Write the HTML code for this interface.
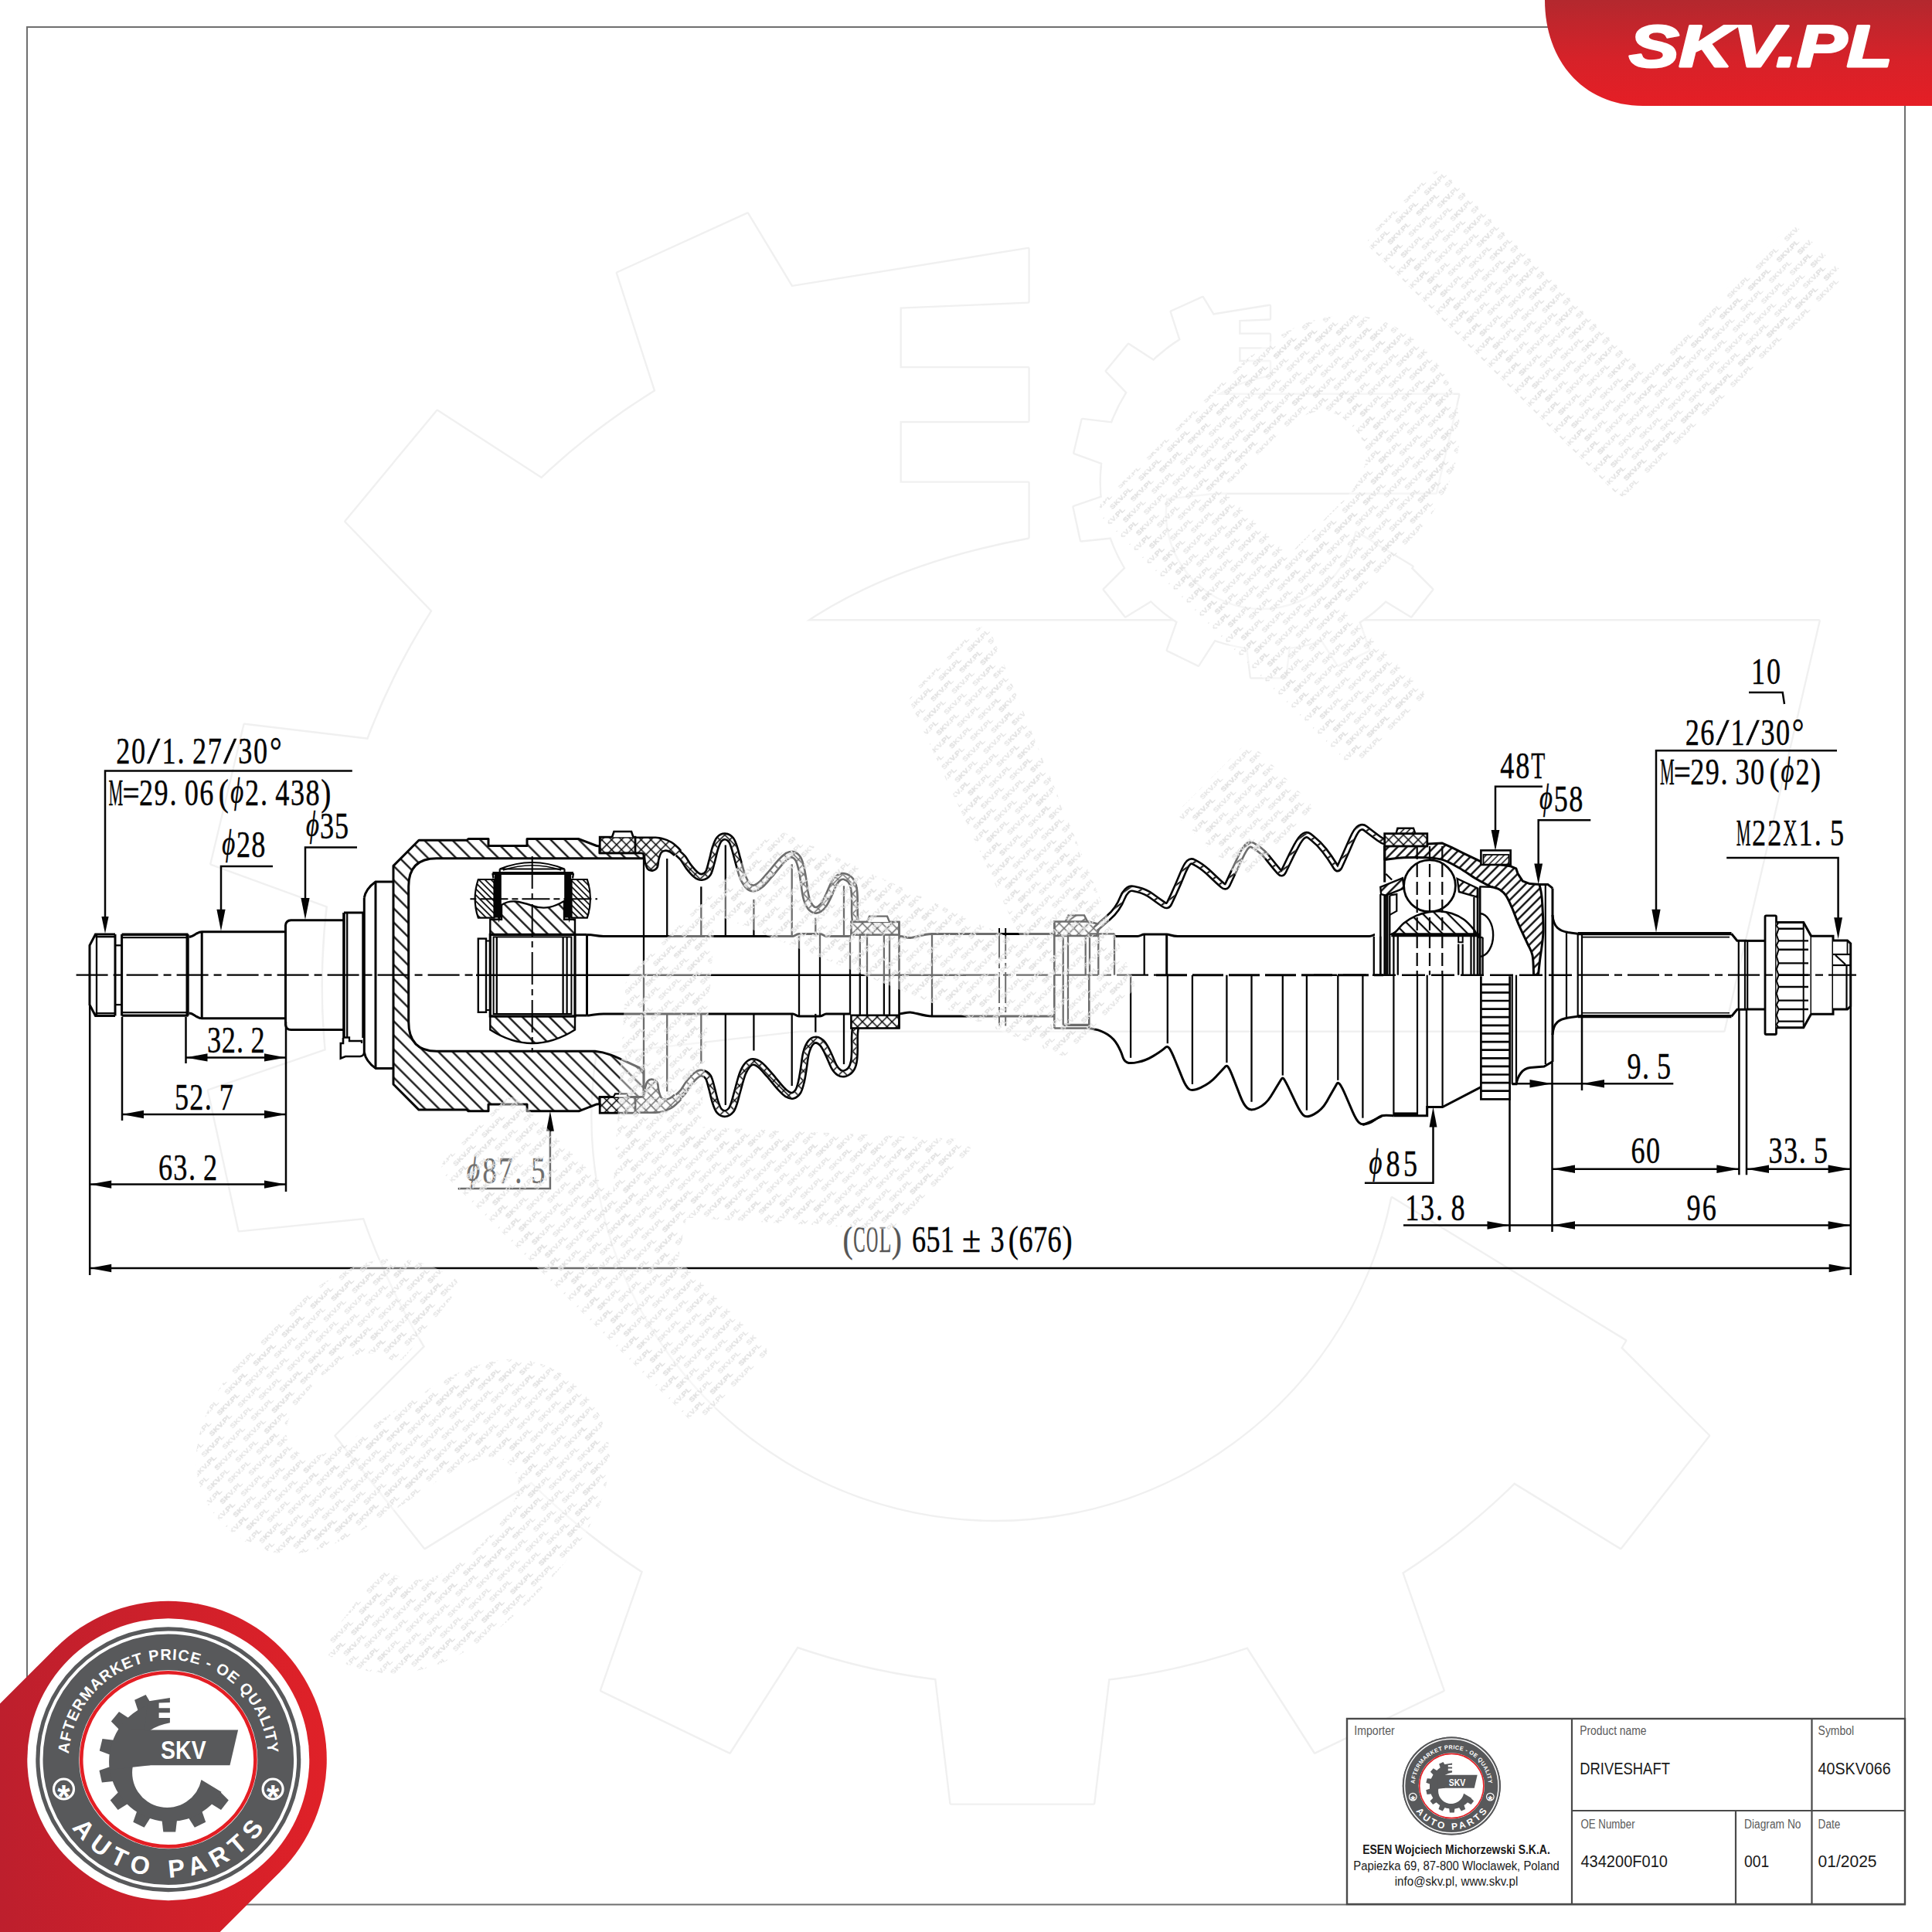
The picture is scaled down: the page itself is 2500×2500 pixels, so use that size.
<!DOCTYPE html>
<html lang="en"><head><meta charset="utf-8"><title>SKV Driveshaft 40SKV066</title>
<style>html,body{margin:0;padding:0;background:#fff}body{width:2500px;height:2500px;overflow:hidden}svg{display:block}</style>
</head><body>
<svg width="2500" height="2500" viewBox="0 0 2500 2500">
<defs><symbol id="logo" overflow="visible"><circle r="171.5" fill="#58595b"/><circle r="164.3" fill="none" stroke="#fff" stroke-width="4"/><circle r="115.5" fill="#fff"/><circle r="112.6" fill="none" stroke="#e31e24" stroke-width="4.6"/><g fill="#58595b"><g id="gearshape"><path d="M66,40.6 L78,52.6 L68.2,65.1 L53.7,56.2Z"/><path d="M42.8,65 L48.4,81 L34.1,87.9 L25,73.7Z"/><path d="M11.4,76.8 L9.4,93.6 L-6.5,93.6 L-8.5,76.8Z"/><path d="M-22.1,73.7 L-31.2,87.9 L-45.5,81 L-39.9,65Z"/><path d="M-50.8,56.2 L-65.2,65.1 L-75.1,52.6 L-63.1,40.6Z"/><path d="M-69.1,28 L-85.9,29.7 L-89.3,14.1 L-73.3,8.6Z"/><path d="M-73.1,-5.4 L-89,-11.2 L-85.3,-26.7 L-68.5,-24.7Z"/><path d="M-62.2,-37.2 L-74,-49.4 L-63.8,-61.7 L-49.6,-52.5Z"/><path d="M-38.5,-61 L-43.7,-77.1 L-29.2,-83.7 L-20.5,-69.3Z"/><path d="M68.7,42 A78,78 0 0 1 -71.8,-24.2 L-45.8,8 A44.9,44.9 0 0 0 42.7,26.1 Z"/><path d="M-23.4,7.4 L-75.8,13.3 A78,78 0 0 1 -21.4,-72.1 L-23.4,-37.3 Z"/><path d="M-48.2,-38.3 L90.3,-38.3 L79.7,7.4 L-48.2,7.4Z"/><path d="M-26.5,-75.2 L2.1,-79.8 L2.1,-73.9 L-12.2,-73.3 L-12.2,-66.5 L2.1,-66.5 L2.1,-60.6 L-12.2,-60.6 L-12.2,-53.7 L2.1,-53.7 L2.1,-47.6 Q-13.5,-44.7 -23.4,-37.8 L-30.8,-37.3 Z"/></g></g><text x="-9.7" y="-0.7" font-family="'Liberation Sans',sans-serif" font-weight="bold" font-size="32.5" fill="#fff" textLength="58.5" lengthAdjust="spacingAndGlyphs">SKV</text><path id="arcTop" d="M-129,0 A129,129 0 1 1 129,0" fill="none"/><text font-family="'Liberation Sans',sans-serif" font-weight="bold" font-size="20" fill="#fff" letter-spacing="1.05" text-anchor="middle"><textPath href="#arcTop" startOffset="50%">AFTERMARKET PRICE - OE QUALITY</textPath></text><path id="arcBot" d="M-152.6,0 A152.6,152.6 0 1 0 152.6,0" fill="none"/><text font-family="'Liberation Sans',sans-serif" font-weight="bold" font-size="32.5" fill="#fff" letter-spacing="9.2" text-anchor="middle"><textPath href="#arcBot" startOffset="50.9%">AUTO PARTS</textPath></text><circle cx="-135.3" cy="38.2" r="13" fill="none" stroke="#fff" stroke-width="3.2"/><text x="-135.3" y="62.7" font-family="'Liberation Sans',sans-serif" font-weight="bold" font-size="42" fill="#fff" text-anchor="middle">*</text><circle cx="135.3" cy="38.2" r="13" fill="none" stroke="#fff" stroke-width="3.2"/><text x="135.3" y="62.7" font-family="'Liberation Sans',sans-serif" font-weight="bold" font-size="42" fill="#fff" text-anchor="middle">*</text></symbol></defs>
<use href="#gearshape" transform="translate(1306,1247.7) scale(11.6)" fill="#fff" stroke="#f0f0f0" stroke-width="0.414" stroke-linejoin="round"/><use href="#gearshape" transform="translate(1306,1247.7) scale(11.6)" fill="#fff" stroke="none"/><use href="#gearshape" transform="translate(1637,617) scale(2.77)" fill="#fff" stroke="#f0f0f0" stroke-width="1.733" stroke-linejoin="round"/><use href="#gearshape" transform="translate(1637,617) scale(2.77)" fill="#fff" stroke="none"/>
<defs><pattern id="hA" patternUnits="userSpaceOnUse" width="12.9" height="12.9" patternTransform="rotate(45)"><path d="M0,6.5 H12.9" stroke="#040404" stroke-width="2.2"/></pattern><pattern id="hT" patternUnits="userSpaceOnUse" width="12.4" height="12.4" patternTransform="rotate(45)"><path d="M0,6.2 H12.4" stroke="#040404" stroke-width="2.2"/></pattern><pattern id="hF" patternUnits="userSpaceOnUse" width="5.6" height="5.6" patternTransform="rotate(45)"><path d="M0,2.8 H5.6" stroke="#040404" stroke-width="1.7"/></pattern><pattern id="hB" patternUnits="userSpaceOnUse" width="8.4" height="8.4" patternTransform="rotate(-45)"><path d="M0,4.2 H8.4" stroke="#040404" stroke-width="2.3"/></pattern><pattern id="hBf" patternUnits="userSpaceOnUse" width="5.5" height="5.5" patternTransform="rotate(-45)"><path d="M0,2.8 H5.5" stroke="#040404" stroke-width="1.4"/></pattern><pattern id="hI" patternUnits="userSpaceOnUse" width="11.5" height="11.5" patternTransform="rotate(45)"><path d="M0,5.8 H11.5" stroke="#040404" stroke-width="2.2"/></pattern><pattern id="hX" patternUnits="userSpaceOnUse" width="9" height="9" patternTransform="rotate(45 3 2)"><path d="M0,4.5 H9 M4.5,0 V9" stroke="#040404" stroke-width="1.5"/></pattern><pattern id="hS" patternUnits="userSpaceOnUse" width="10.5" height="10.5" patternTransform="rotate(-35)"><path d="M0,5 H10.5" stroke="#040404" stroke-width="2"/></pattern></defs>
<g stroke-linecap="butt" stroke-linejoin="miter">
<path d="M116,1261.7 L116,1223.3 L123.5,1209 L149,1209" fill="none" stroke="#040404" stroke-width="3" />
<path d="M116,1261.7 L116,1300.1 L123.5,1314.4 L149,1314.4" fill="none" stroke="#040404" stroke-width="3" />
<path d="M123.5,1212.2L149,1212.2" stroke="#040404" stroke-width="2.3" fill="none" />
<path d="M123.5,1311.2L149,1311.2" stroke="#040404" stroke-width="2.3" fill="none" />
<path d="M125,1210L125,1313.4" stroke="#040404" stroke-width="2.3" fill="none" />
<path d="M149,1209L149,1314.4" stroke="#040404" stroke-width="3" fill="none" />
<path d="M149,1223.3L157.6,1223.3" stroke="#040404" stroke-width="2.3" fill="none" />
<path d="M149,1300.1L157.6,1300.1" stroke="#040404" stroke-width="2.3" fill="none" />
<path d="M157.6,1209L157.6,1314.4" stroke="#040404" stroke-width="3" fill="none" />
<path d="M157.6,1209.3L243.5,1209.3" stroke="#040404" stroke-width="3.4" fill="none" />
<path d="M157.6,1314.1L243.5,1314.1" stroke="#040404" stroke-width="3.4" fill="none" />
<path d="M157.6,1213.2L243.5,1213.2" stroke="#040404" stroke-width="2.3" fill="none" />
<path d="M157.6,1310.2L243.5,1310.2" stroke="#040404" stroke-width="2.3" fill="none" />
<path d="M242.6,1209L242.6,1314.4" stroke="#040404" stroke-width="4.2" fill="none" />
<path d="M244.6,1212.3 C251,1212.3 254,1205.7 261.2,1205.7 H368.5" fill="none" stroke="#040404" stroke-width="3" />
<path d="M244.6,1311.1 C251,1311.1 254,1317.7 261.2,1317.7 H368.5" fill="none" stroke="#040404" stroke-width="3" />
<path d="M261.2,1205.7L261.2,1317.7" stroke="#040404" stroke-width="3" fill="none" />
<path d="M369.5,1196.8L369.5,1326.6" stroke="#040404" stroke-width="3" fill="none" />
<path d="M369.5,1197.5 Q370,1191 376.5,1190.8 H444" fill="none" stroke="#040404" stroke-width="3" />
<path d="M369.5,1325.9 Q370,1332.4 376.5,1332.6 H444" fill="none" stroke="#040404" stroke-width="3" />
<path d="M445,1181L445,1343" stroke="#040404" stroke-width="3.6" fill="none" />
<path d="M449.2,1181L449.2,1343" stroke="#040404" stroke-width="2.3" fill="none" />
<path d="M445,1181 L469.8,1181 L469.8,1343" fill="none" stroke="#040404" stroke-width="3" />
<path d="M445,1342.5 L452,1342.5 L452,1347 L468,1347 L468,1350" fill="none" stroke="#040404" stroke-width="2.3" />
<path d="M444,1343 V1350 H440.8 V1369.5 L447,1367 H466 Q471,1366.5 471.3,1361" fill="none" stroke="#040404" stroke-width="2.6" />
<path d="M471.3,1161.8L471.3,1361.6" stroke="#040404" stroke-width="3" fill="none" />
<path d="M471.3,1161.8 C473,1152 479,1146 486,1141 H509" fill="none" stroke="#040404" stroke-width="3" />
<path d="M471.3,1361.6 C473,1371.4 479,1377.4 486,1382.4 H509" fill="none" stroke="#040404" stroke-width="3" />
<path d="M486,1141L486,1382.4" stroke="#040404" stroke-width="3" fill="none" />
<path d="M509,1120.4 L542,1087.3 L604,1087.3 L606,1085.6 L632,1085.6 L632,1094.5 L682,1094.5 L682,1085.6 L749,1085.6 L772,1094.5 L776,1095 L776,1103.8 L833,1103.8 L833,1110.7 L565,1110.7 Q528.7,1110.7 528.7,1147 L528.7,1322 Q528.7,1360.3 565,1360.3 L770,1360.3 C790,1362 805,1372 833,1384  L833,1419.6 L776,1419.6 L776,1428.4 L772,1428.9 L749,1437.8 L682,1437.8 L682,1428.9 L632,1428.9 L632,1437.8 L606,1437.8 L604,1436.1 L542,1436.1 L509,1403 Z" fill="url(#hA)" stroke="#040404" stroke-width="3" stroke-linejoin="round"/>
<path d="M833,1110.7L833,1416" stroke="#040404" stroke-width="2.3" fill="none" />
<path d="M639.5,1138 L618.8,1138 Q610.5,1163 618.8,1187.7 L639.5,1187.7 Z" fill="url(#hF)" stroke="#040404" stroke-width="2.2" />
<path d="M739.5,1138 L759.8,1138 Q768,1163 759.8,1187.7 L739.5,1187.7 Z" fill="url(#hF)" stroke="#040404" stroke-width="2.2" />
<rect x="639.8" y="1129" width="9" height="58.5" fill="#040404"/>
<rect x="730.2" y="1129" width="9" height="58.5" fill="#040404"/>
<path d="M644,1187 l1.5,7 l2,-7z M735,1187 l1.5,7 l2,-7z" fill="#040404"/>
<path d="M637.4,1130L742,1130" stroke="#040404" stroke-width="4" fill="none" />
<path d="M637.4,1130L638.5,1136.5" stroke="#040404" stroke-width="2.3" fill="none" />
<path d="M742,1130L741,1136.5" stroke="#040404" stroke-width="2.3" fill="none" />
<path d="M646.7,1124.5 Q688.7,1107.5 730.5,1124.5 Z" fill="none" stroke="#040404" stroke-width="2.2" />
<path d="M646.7,1124.5 V1129 M730.5,1124.5 V1129" fill="none" stroke="#040404" stroke-width="2.2" />
<path d="M651,1126 Q688.7,1113.5 726,1126" fill="none" stroke="#040404" stroke-width="1.6" />
<path d="M634.3,1209.4 L634.3,1189.8 L649,1189.8 L649,1171 C660,1163.5 672,1166 688.7,1172 S718,1173 730,1166 L730,1189.8 L744,1189.8 L744,1209.4 Z" fill="url(#hT)" stroke="#040404" stroke-width="2.4" />
<rect x="634.3" y="1209.4" width="109.7" height="105.6" fill="#fff" stroke="#040404" stroke-width="3.2"/>
<rect x="638.6" y="1212.4" width="100.8" height="99.6" fill="none" stroke="#040404" stroke-width="2"/>
<path d="M642.8,1212L642.8,1312" stroke="#040404" stroke-width="2.3" fill="none" />
<path d="M728.6,1212L728.6,1312" stroke="#040404" stroke-width="2.3" fill="none" />
<path d="M733.6,1212L733.6,1312" stroke="#040404" stroke-width="2.3" fill="none" />
<rect x="618.8" y="1214.6" width="10.2" height="95.2" fill="#fff" stroke="#040404" stroke-width="2.4"/>
<rect x="629" y="1217.5" width="5" height="89.5" fill="none" stroke="#040404" stroke-width="2"/>
<path d="M634.3,1315 L744,1315 L744,1332.6 Q688.7,1367.5 634.3,1332.6 Z" fill="url(#hT)" stroke="#040404" stroke-width="2.4" />
<path d="M688.7,1108L688.7,1362" stroke="#040404" stroke-width="2" fill="none" stroke-dasharray="42 6 8 6"/>
<path d="M608.4,1163.3L773,1163.3" stroke="#040404" stroke-width="2" fill="none" stroke-dasharray="8 5 36 5"/>
<path d="M744,1209.4L759.5,1209.4" stroke="#040404" stroke-width="3" fill="none" />
<path d="M744,1314L759.5,1314" stroke="#040404" stroke-width="3" fill="none" />
<path d="M759.5,1209.4L759.5,1314" stroke="#040404" stroke-width="3" fill="none" />
<path d="M759.5,1209.4 C767,1209.4 771,1211.5 781,1211.5 H1026 C1029,1211.5 1030,1208.4 1034,1208.4 H1061 C1065,1208.4 1066,1211.5 1069,1211.5 H1101" fill="none" stroke="#040404" stroke-width="3" />
<path d="M759.5,1314 C767,1314 771,1311.9 781,1311.9 H1026 C1029,1311.9 1030,1315 1034,1315 H1061 C1065,1315 1066,1311.9 1069,1311.9 H1101" fill="none" stroke="#040404" stroke-width="3" />
<path d="M1034,1208.4L1034,1315" stroke="#040404" stroke-width="2.3" fill="none" />
<path d="M1061,1208.4L1061,1315" stroke="#040404" stroke-width="2.3" fill="none" />
<path d="M1100,1211.5L1100,1311.9" stroke="#040404" stroke-width="2.3" fill="none" />
<path d="M863.2,1111L863.2,1211.5" stroke="#040404" stroke-width="2.3" fill="none" />
<path d="M863.2,1412.4L863.2,1311.9" stroke="#040404" stroke-width="2.3" fill="none" />
<path d="M907.3,1147.3L907.3,1211.5" stroke="#040404" stroke-width="2.3" fill="none" />
<path d="M907.3,1376.1L907.3,1311.9" stroke="#040404" stroke-width="2.3" fill="none" />
<path d="M938.8,1093.5L938.8,1211.5" stroke="#040404" stroke-width="2.3" fill="none" />
<path d="M938.8,1429.9L938.8,1311.9" stroke="#040404" stroke-width="2.3" fill="none" />
<path d="M975.4,1163.9L975.4,1211.5" stroke="#040404" stroke-width="2.3" fill="none" />
<path d="M975.4,1359.5L975.4,1311.9" stroke="#040404" stroke-width="2.3" fill="none" />
<path d="M1024.7,1118.3L1024.7,1211.5" stroke="#040404" stroke-width="2.3" fill="none" />
<path d="M1024.7,1405.1L1024.7,1311.9" stroke="#040404" stroke-width="2.3" fill="none" />
<path d="M1055.3,1187.7L1055.3,1211.5" stroke="#040404" stroke-width="2.3" fill="none" />
<path d="M1055.3,1335.7L1055.3,1311.9" stroke="#040404" stroke-width="2.3" fill="none" />
<path d="M1092,1146.3L1092,1211.5" stroke="#040404" stroke-width="2.3" fill="none" />
<path d="M1092,1377.1L1092,1311.9" stroke="#040404" stroke-width="2.3" fill="none" />
<path d="M820.3,1083.8 C825,1083.8 842,1083.6 848.3,1083.8 C854.5,1084.1 854.2,1084.2 857.6,1085.2 C861,1086.1 865.6,1088 868.8,1089.8 C871.9,1091.6 874.1,1093.9 876.2,1095.8 C878.3,1097.6 880.4,1100.1 881.2,1101 L873,1107 C872.1,1106.2 869.2,1103.5 867.3,1102.5 C865.3,1101.4 863.2,1100.5 861.3,1100.6 C859.4,1100.7 857.2,1101.3 855.7,1103.2 C854.2,1105.2 853.2,1109 852.4,1112.2 C851.5,1115.4 851.9,1120 850.5,1122.4 C849.1,1124.8 846.2,1126.4 844.2,1126.7 C842.1,1127 839.6,1126.1 838,1124.3 C836.5,1122.5 835.7,1119.1 834.8,1115.9 C834,1112.7 834.3,1107.1 832.8,1105.1 C831.3,1103.1 828,1104 825.9,1103.8 C823.8,1103.6 821.2,1103.8 820.3,1103.8 Z" fill="#fff" stroke="none" stroke-width="0" />
<path d="M820.3,1083.8 C825,1083.8 842,1083.6 848.3,1083.8 C854.5,1084.1 854.2,1084.2 857.6,1085.2 C861,1086.1 865.6,1088 868.8,1089.8 C871.9,1091.6 874.1,1093.9 876.2,1095.8 C878.3,1097.6 880.4,1100.1 881.2,1101 L873,1107 C872.1,1106.2 869.2,1103.5 867.3,1102.5 C865.3,1101.4 863.2,1100.5 861.3,1100.6 C859.4,1100.7 857.2,1101.3 855.7,1103.2 C854.2,1105.2 853.2,1109 852.4,1112.2 C851.5,1115.4 851.9,1120 850.5,1122.4 C849.1,1124.8 846.2,1126.4 844.2,1126.7 C842.1,1127 839.6,1126.1 838,1124.3 C836.5,1122.5 835.7,1119.1 834.8,1115.9 C834,1112.7 834.3,1107.1 832.8,1105.1 C831.3,1103.1 828,1104 825.9,1103.8 C823.8,1103.6 821.2,1103.8 820.3,1103.8 Z" fill="url(#hX)" stroke="none" stroke-width="0" />
<path d="M820.3,1083.8 C825,1083.8 842,1083.6 848.3,1083.8 C854.5,1084.1 854.2,1084.2 857.6,1085.2 C861,1086.1 865.6,1088 868.8,1089.8 C871.9,1091.6 874.1,1093.9 876.2,1095.8 C878.3,1097.6 880.4,1100.1 881.2,1101" fill="none" stroke="#040404" stroke-width="2.6" />
<path d="M873,1107 C872.1,1106.2 869.2,1103.5 867.3,1102.5 C865.3,1101.4 863.2,1100.5 861.3,1100.6 C859.4,1100.7 857.2,1101.3 855.7,1103.2 C854.2,1105.2 853.2,1109 852.4,1112.2 C851.5,1115.4 851.9,1120 850.5,1122.4 C849.1,1124.8 846.2,1126.4 844.2,1126.7 C842.1,1127 839.6,1126.1 838,1124.3 C836.5,1122.5 835.7,1119.1 834.8,1115.9 C834,1112.7 834.3,1107.1 832.8,1105.1 C831.3,1103.1 828,1104 825.9,1103.8 C823.8,1103.6 821.2,1103.8 820.3,1103.8" fill="none" stroke="#040404" stroke-width="2.6" />
<path d="M877.1,1104 C878.2,1105 881.3,1107.4 883.7,1110.3 C886,1113.2 888.3,1117.9 891.1,1121.5 C893.9,1125.1 897.6,1129.5 900.4,1131.7 C903.2,1134 905.2,1135.2 907.9,1134.9 C910.5,1134.6 914,1133.3 916.3,1129.9 C918.5,1126.4 919.7,1119.5 921.3,1114 C922.8,1108.6 924,1101.9 925.6,1097.3 C927.1,1092.6 928.4,1088.6 930.6,1086.1 C932.8,1083.6 936,1082.2 938.6,1082.4 C941.2,1082.5 944.1,1084.5 946.1,1087 C948,1089.5 949,1093.1 950.4,1097.3 C951.8,1101.5 952.7,1106 954.5,1112.2 C956.2,1118.4 958.8,1128.9 961,1134.5 C963.2,1140.1 965.2,1143.2 967.5,1145.7 C969.8,1148.2 972.2,1149.6 975,1149.4 C977.8,1149.3 980.9,1147.6 984.3,1144.8 C987.7,1142 991.1,1137.6 995.5,1132.7 C999.8,1127.7 1006.5,1119.2 1010.4,1115 C1014.2,1110.8 1016.2,1109.1 1018.7,1107.5 C1021.3,1106 1023.3,1105 1025.6,1105.6 C1028,1106.3 1030.9,1108.3 1032.7,1111.2 C1034.6,1114.2 1035.6,1118.5 1036.8,1123.4 C1038,1128.2 1038.8,1133.9 1039.8,1140.1 C1040.8,1146.3 1041.5,1155 1043,1160.6 C1044.4,1166.2 1046.4,1170.8 1048.6,1173.7 C1050.7,1176.5 1053.4,1177.9 1056,1177.8 C1058.6,1177.6 1061.8,1175.7 1064.4,1172.7 C1067,1169.7 1069.4,1164.7 1071.8,1159.7 C1074.3,1154.7 1077,1147 1079.3,1142.9 C1081.6,1138.9 1083.6,1136.9 1085.8,1135.5 C1088.1,1134 1090.4,1133.5 1092.9,1134.2 C1095.4,1134.8 1098.7,1136.6 1100.7,1139.2 C1102.7,1141.7 1104,1145.2 1104.8,1149.4 C1105.7,1153.6 1105.8,1159.1 1105.9,1164.3 C1106.1,1169.6 1105.8,1176.8 1105.9,1181.1 C1106,1185.5 1106.2,1187.9 1106.5,1190.4 C1106.8,1192.9 1107.4,1195.1 1107.6,1196" fill="none" stroke="#040404" stroke-width="10.2" stroke-linejoin="round"/>
<path d="M877.1,1104 C878.2,1105 881.3,1107.4 883.7,1110.3 C886,1113.2 888.3,1117.9 891.1,1121.5 C893.9,1125.1 897.6,1129.5 900.4,1131.7 C903.2,1134 905.2,1135.2 907.9,1134.9 C910.5,1134.6 914,1133.3 916.3,1129.9 C918.5,1126.4 919.7,1119.5 921.3,1114 C922.8,1108.6 924,1101.9 925.6,1097.3 C927.1,1092.6 928.4,1088.6 930.6,1086.1 C932.8,1083.6 936,1082.2 938.6,1082.4 C941.2,1082.5 944.1,1084.5 946.1,1087 C948,1089.5 949,1093.1 950.4,1097.3 C951.8,1101.5 952.7,1106 954.5,1112.2 C956.2,1118.4 958.8,1128.9 961,1134.5 C963.2,1140.1 965.2,1143.2 967.5,1145.7 C969.8,1148.2 972.2,1149.6 975,1149.4 C977.8,1149.3 980.9,1147.6 984.3,1144.8 C987.7,1142 991.1,1137.6 995.5,1132.7 C999.8,1127.7 1006.5,1119.2 1010.4,1115 C1014.2,1110.8 1016.2,1109.1 1018.7,1107.5 C1021.3,1106 1023.3,1105 1025.6,1105.6 C1028,1106.3 1030.9,1108.3 1032.7,1111.2 C1034.6,1114.2 1035.6,1118.5 1036.8,1123.4 C1038,1128.2 1038.8,1133.9 1039.8,1140.1 C1040.8,1146.3 1041.5,1155 1043,1160.6 C1044.4,1166.2 1046.4,1170.8 1048.6,1173.7 C1050.7,1176.5 1053.4,1177.9 1056,1177.8 C1058.6,1177.6 1061.8,1175.7 1064.4,1172.7 C1067,1169.7 1069.4,1164.7 1071.8,1159.7 C1074.3,1154.7 1077,1147 1079.3,1142.9 C1081.6,1138.9 1083.6,1136.9 1085.8,1135.5 C1088.1,1134 1090.4,1133.5 1092.9,1134.2 C1095.4,1134.8 1098.7,1136.6 1100.7,1139.2 C1102.7,1141.7 1104,1145.2 1104.8,1149.4 C1105.7,1153.6 1105.8,1159.1 1105.9,1164.3 C1106.1,1169.6 1105.8,1176.8 1105.9,1181.1 C1106,1185.5 1106.2,1187.9 1106.5,1190.4 C1106.8,1192.9 1107.4,1195.1 1107.6,1196" fill="none" stroke="#fff" stroke-width="5" stroke-linejoin="round"/>
<path d="M877.1,1104 C878.2,1105 881.3,1107.4 883.7,1110.3 C886,1113.2 888.3,1117.9 891.1,1121.5 C893.9,1125.1 897.6,1129.5 900.4,1131.7 C903.2,1134 905.2,1135.2 907.9,1134.9 C910.5,1134.6 914,1133.3 916.3,1129.9 C918.5,1126.4 919.7,1119.5 921.3,1114 C922.8,1108.6 924,1101.9 925.6,1097.3 C927.1,1092.6 928.4,1088.6 930.6,1086.1 C932.8,1083.6 936,1082.2 938.6,1082.4 C941.2,1082.5 944.1,1084.5 946.1,1087 C948,1089.5 949,1093.1 950.4,1097.3 C951.8,1101.5 952.7,1106 954.5,1112.2 C956.2,1118.4 958.8,1128.9 961,1134.5 C963.2,1140.1 965.2,1143.2 967.5,1145.7 C969.8,1148.2 972.2,1149.6 975,1149.4 C977.8,1149.3 980.9,1147.6 984.3,1144.8 C987.7,1142 991.1,1137.6 995.5,1132.7 C999.8,1127.7 1006.5,1119.2 1010.4,1115 C1014.2,1110.8 1016.2,1109.1 1018.7,1107.5 C1021.3,1106 1023.3,1105 1025.6,1105.6 C1028,1106.3 1030.9,1108.3 1032.7,1111.2 C1034.6,1114.2 1035.6,1118.5 1036.8,1123.4 C1038,1128.2 1038.8,1133.9 1039.8,1140.1 C1040.8,1146.3 1041.5,1155 1043,1160.6 C1044.4,1166.2 1046.4,1170.8 1048.6,1173.7 C1050.7,1176.5 1053.4,1177.9 1056,1177.8 C1058.6,1177.6 1061.8,1175.7 1064.4,1172.7 C1067,1169.7 1069.4,1164.7 1071.8,1159.7 C1074.3,1154.7 1077,1147 1079.3,1142.9 C1081.6,1138.9 1083.6,1136.9 1085.8,1135.5 C1088.1,1134 1090.4,1133.5 1092.9,1134.2 C1095.4,1134.8 1098.7,1136.6 1100.7,1139.2 C1102.7,1141.7 1104,1145.2 1104.8,1149.4 C1105.7,1153.6 1105.8,1159.1 1105.9,1164.3 C1106.1,1169.6 1105.8,1176.8 1105.9,1181.1 C1106,1185.5 1106.2,1187.9 1106.5,1190.4 C1106.8,1192.9 1107.4,1195.1 1107.6,1196" fill="none" stroke="url(#hX)" stroke-width="5" stroke-linejoin="round"/>
<rect x="776.2" y="1083.2" width="45.8" height="20.6" fill="#fff" stroke="none"/>
<rect x="776.2" y="1083.2" width="45.8" height="20.6" fill="url(#hX)" stroke="#040404" stroke-width="2.8"/>
<path d="M792,1083.2 L794.5,1076 L817,1076 L819.5,1083.2" fill="#fff" stroke="#040404" stroke-width="2.6" />
<rect x="1101.4" y="1192.9" width="62.1" height="16.7" fill="#fff" stroke="none"/>
<rect x="1101.4" y="1192.9" width="62.1" height="16.7" fill="url(#hX)" stroke="#040404" stroke-width="2.6"/>
<path d="M1122,1192.9 L1125,1185.6 L1148,1185.6 L1151,1192.9" fill="#fff" stroke="#040404" stroke-width="2.4" />
<path d="M820.3,1439.6 C825,1439.6 842,1439.8 848.3,1439.6 C854.5,1439.3 854.2,1439.2 857.6,1438.2 C861,1437.3 865.6,1435.4 868.8,1433.6 C871.9,1431.8 874.1,1429.5 876.2,1427.6 C878.3,1425.8 880.4,1423.3 881.2,1422.4 L873,1416.4 C872.1,1417.2 869.2,1419.9 867.3,1420.9 C865.3,1422 863.2,1422.9 861.3,1422.8 C859.4,1422.7 857.2,1422.1 855.7,1420.2 C854.2,1418.2 853.2,1414.4 852.4,1411.2 C851.5,1408 851.9,1403.4 850.5,1401 C849.1,1398.6 846.2,1397 844.2,1396.7 C842.1,1396.4 839.6,1397.3 838,1399.1 C836.5,1400.9 835.7,1404.3 834.8,1407.5 C834,1410.7 834.3,1416.3 832.8,1418.3 C831.3,1420.3 828,1419.4 825.9,1419.6 C823.8,1419.8 821.2,1419.6 820.3,1419.6 Z" fill="#fff" stroke="none" stroke-width="0" />
<path d="M820.3,1439.6 C825,1439.6 842,1439.8 848.3,1439.6 C854.5,1439.3 854.2,1439.2 857.6,1438.2 C861,1437.3 865.6,1435.4 868.8,1433.6 C871.9,1431.8 874.1,1429.5 876.2,1427.6 C878.3,1425.8 880.4,1423.3 881.2,1422.4 L873,1416.4 C872.1,1417.2 869.2,1419.9 867.3,1420.9 C865.3,1422 863.2,1422.9 861.3,1422.8 C859.4,1422.7 857.2,1422.1 855.7,1420.2 C854.2,1418.2 853.2,1414.4 852.4,1411.2 C851.5,1408 851.9,1403.4 850.5,1401 C849.1,1398.6 846.2,1397 844.2,1396.7 C842.1,1396.4 839.6,1397.3 838,1399.1 C836.5,1400.9 835.7,1404.3 834.8,1407.5 C834,1410.7 834.3,1416.3 832.8,1418.3 C831.3,1420.3 828,1419.4 825.9,1419.6 C823.8,1419.8 821.2,1419.6 820.3,1419.6 Z" fill="url(#hX)" stroke="none" stroke-width="0" />
<path d="M820.3,1439.6 C825,1439.6 842,1439.8 848.3,1439.6 C854.5,1439.3 854.2,1439.2 857.6,1438.2 C861,1437.3 865.6,1435.4 868.8,1433.6 C871.9,1431.8 874.1,1429.5 876.2,1427.6 C878.3,1425.8 880.4,1423.3 881.2,1422.4" fill="none" stroke="#040404" stroke-width="2.6" />
<path d="M873,1416.4 C872.1,1417.2 869.2,1419.9 867.3,1420.9 C865.3,1422 863.2,1422.9 861.3,1422.8 C859.4,1422.7 857.2,1422.1 855.7,1420.2 C854.2,1418.2 853.2,1414.4 852.4,1411.2 C851.5,1408 851.9,1403.4 850.5,1401 C849.1,1398.6 846.2,1397 844.2,1396.7 C842.1,1396.4 839.6,1397.3 838,1399.1 C836.5,1400.9 835.7,1404.3 834.8,1407.5 C834,1410.7 834.3,1416.3 832.8,1418.3 C831.3,1420.3 828,1419.4 825.9,1419.6 C823.8,1419.8 821.2,1419.6 820.3,1419.6" fill="none" stroke="#040404" stroke-width="2.6" />
<path d="M877.1,1419.4 C878.2,1418.4 881.3,1416 883.7,1413.1 C886,1410.2 888.3,1405.5 891.1,1401.9 C893.9,1398.3 897.6,1393.9 900.4,1391.7 C903.2,1389.4 905.2,1388.2 907.9,1388.5 C910.5,1388.8 914,1390.1 916.3,1393.5 C918.5,1397 919.7,1403.9 921.3,1409.4 C922.8,1414.8 924,1421.5 925.6,1426.1 C927.1,1430.8 928.4,1434.8 930.6,1437.3 C932.8,1439.8 936,1441.2 938.6,1441 C941.2,1440.9 944.1,1438.9 946.1,1436.4 C948,1433.9 949,1430.3 950.4,1426.1 C951.8,1421.9 952.7,1417.4 954.5,1411.2 C956.2,1405 958.8,1394.5 961,1388.9 C963.2,1383.3 965.2,1380.2 967.5,1377.7 C969.8,1375.2 972.2,1373.8 975,1374 C977.8,1374.1 980.9,1375.8 984.3,1378.6 C987.7,1381.4 991.1,1385.8 995.5,1390.7 C999.8,1395.7 1006.5,1404.2 1010.4,1408.4 C1014.2,1412.6 1016.2,1414.3 1018.7,1415.9 C1021.3,1417.4 1023.3,1418.4 1025.6,1417.8 C1028,1417.1 1030.9,1415.1 1032.7,1412.2 C1034.6,1409.2 1035.6,1404.9 1036.8,1400 C1038,1395.2 1038.8,1389.5 1039.8,1383.3 C1040.8,1377.1 1041.5,1368.4 1043,1362.8 C1044.4,1357.2 1046.4,1352.6 1048.6,1349.7 C1050.7,1346.9 1053.4,1345.5 1056,1345.6 C1058.6,1345.8 1061.8,1347.7 1064.4,1350.7 C1067,1353.7 1069.4,1358.7 1071.8,1363.7 C1074.3,1368.7 1077,1376.4 1079.3,1380.5 C1081.6,1384.5 1083.6,1386.5 1085.8,1387.9 C1088.1,1389.4 1090.4,1389.9 1092.9,1389.2 C1095.4,1388.6 1098.7,1386.8 1100.7,1384.2 C1102.7,1381.7 1104,1378.2 1104.8,1374 C1105.7,1369.8 1105.8,1364.3 1105.9,1359.1 C1106.1,1353.8 1105.8,1346.6 1105.9,1342.3 C1106,1337.9 1106.2,1335.5 1106.5,1333 C1106.8,1330.5 1107.4,1328.3 1107.6,1327.4" fill="none" stroke="#040404" stroke-width="10.2" stroke-linejoin="round"/>
<path d="M877.1,1419.4 C878.2,1418.4 881.3,1416 883.7,1413.1 C886,1410.2 888.3,1405.5 891.1,1401.9 C893.9,1398.3 897.6,1393.9 900.4,1391.7 C903.2,1389.4 905.2,1388.2 907.9,1388.5 C910.5,1388.8 914,1390.1 916.3,1393.5 C918.5,1397 919.7,1403.9 921.3,1409.4 C922.8,1414.8 924,1421.5 925.6,1426.1 C927.1,1430.8 928.4,1434.8 930.6,1437.3 C932.8,1439.8 936,1441.2 938.6,1441 C941.2,1440.9 944.1,1438.9 946.1,1436.4 C948,1433.9 949,1430.3 950.4,1426.1 C951.8,1421.9 952.7,1417.4 954.5,1411.2 C956.2,1405 958.8,1394.5 961,1388.9 C963.2,1383.3 965.2,1380.2 967.5,1377.7 C969.8,1375.2 972.2,1373.8 975,1374 C977.8,1374.1 980.9,1375.8 984.3,1378.6 C987.7,1381.4 991.1,1385.8 995.5,1390.7 C999.8,1395.7 1006.5,1404.2 1010.4,1408.4 C1014.2,1412.6 1016.2,1414.3 1018.7,1415.9 C1021.3,1417.4 1023.3,1418.4 1025.6,1417.8 C1028,1417.1 1030.9,1415.1 1032.7,1412.2 C1034.6,1409.2 1035.6,1404.9 1036.8,1400 C1038,1395.2 1038.8,1389.5 1039.8,1383.3 C1040.8,1377.1 1041.5,1368.4 1043,1362.8 C1044.4,1357.2 1046.4,1352.6 1048.6,1349.7 C1050.7,1346.9 1053.4,1345.5 1056,1345.6 C1058.6,1345.8 1061.8,1347.7 1064.4,1350.7 C1067,1353.7 1069.4,1358.7 1071.8,1363.7 C1074.3,1368.7 1077,1376.4 1079.3,1380.5 C1081.6,1384.5 1083.6,1386.5 1085.8,1387.9 C1088.1,1389.4 1090.4,1389.9 1092.9,1389.2 C1095.4,1388.6 1098.7,1386.8 1100.7,1384.2 C1102.7,1381.7 1104,1378.2 1104.8,1374 C1105.7,1369.8 1105.8,1364.3 1105.9,1359.1 C1106.1,1353.8 1105.8,1346.6 1105.9,1342.3 C1106,1337.9 1106.2,1335.5 1106.5,1333 C1106.8,1330.5 1107.4,1328.3 1107.6,1327.4" fill="none" stroke="#fff" stroke-width="5" stroke-linejoin="round"/>
<path d="M877.1,1419.4 C878.2,1418.4 881.3,1416 883.7,1413.1 C886,1410.2 888.3,1405.5 891.1,1401.9 C893.9,1398.3 897.6,1393.9 900.4,1391.7 C903.2,1389.4 905.2,1388.2 907.9,1388.5 C910.5,1388.8 914,1390.1 916.3,1393.5 C918.5,1397 919.7,1403.9 921.3,1409.4 C922.8,1414.8 924,1421.5 925.6,1426.1 C927.1,1430.8 928.4,1434.8 930.6,1437.3 C932.8,1439.8 936,1441.2 938.6,1441 C941.2,1440.9 944.1,1438.9 946.1,1436.4 C948,1433.9 949,1430.3 950.4,1426.1 C951.8,1421.9 952.7,1417.4 954.5,1411.2 C956.2,1405 958.8,1394.5 961,1388.9 C963.2,1383.3 965.2,1380.2 967.5,1377.7 C969.8,1375.2 972.2,1373.8 975,1374 C977.8,1374.1 980.9,1375.8 984.3,1378.6 C987.7,1381.4 991.1,1385.8 995.5,1390.7 C999.8,1395.7 1006.5,1404.2 1010.4,1408.4 C1014.2,1412.6 1016.2,1414.3 1018.7,1415.9 C1021.3,1417.4 1023.3,1418.4 1025.6,1417.8 C1028,1417.1 1030.9,1415.1 1032.7,1412.2 C1034.6,1409.2 1035.6,1404.9 1036.8,1400 C1038,1395.2 1038.8,1389.5 1039.8,1383.3 C1040.8,1377.1 1041.5,1368.4 1043,1362.8 C1044.4,1357.2 1046.4,1352.6 1048.6,1349.7 C1050.7,1346.9 1053.4,1345.5 1056,1345.6 C1058.6,1345.8 1061.8,1347.7 1064.4,1350.7 C1067,1353.7 1069.4,1358.7 1071.8,1363.7 C1074.3,1368.7 1077,1376.4 1079.3,1380.5 C1081.6,1384.5 1083.6,1386.5 1085.8,1387.9 C1088.1,1389.4 1090.4,1389.9 1092.9,1389.2 C1095.4,1388.6 1098.7,1386.8 1100.7,1384.2 C1102.7,1381.7 1104,1378.2 1104.8,1374 C1105.7,1369.8 1105.8,1364.3 1105.9,1359.1 C1106.1,1353.8 1105.8,1346.6 1105.9,1342.3 C1106,1337.9 1106.2,1335.5 1106.5,1333 C1106.8,1330.5 1107.4,1328.3 1107.6,1327.4" fill="none" stroke="url(#hX)" stroke-width="5" stroke-linejoin="round"/>
<rect x="776.2" y="1419.6" width="45.8" height="20.6" fill="#fff" stroke="none"/>
<rect x="776.2" y="1419.6" width="45.8" height="20.6" fill="url(#hX)" stroke="#040404" stroke-width="2.8"/>
<path d="M793.8,1419.6 L796,1415.4 L811,1415.4 L813,1419.6" fill="#fff" stroke="#040404" stroke-width="2.2" />
<rect x="1101.4" y="1313.8" width="62.1" height="16.7" fill="#fff" stroke="none"/>
<rect x="1101.4" y="1313.8" width="62.1" height="16.7" fill="url(#hX)" stroke="#040404" stroke-width="2.6"/>
<path d="M1112.8,1209.6L1112.8,1313.8" stroke="#040404" stroke-width="2.3" fill="none" />
<path d="M1122,1209.6L1122,1313.8" stroke="#040404" stroke-width="2.3" fill="none" />
<path d="M1143.9,1209.6L1143.9,1313.8" stroke="#040404" stroke-width="2.3" fill="none" />
<path d="M1151,1209.6L1151,1313.8" stroke="#040404" stroke-width="2.3" fill="none" />
<path d="M1163.5,1192.9L1163.5,1330.5" stroke="#040404" stroke-width="2.6" fill="none" />
<path d="M1163.5,1211.5 C1170,1211.5 1172,1213.8 1178,1213.5 S1195,1208.4 1206,1208.4 H1364.3" fill="none" stroke="#040404" stroke-width="3" />
<path d="M1163.5,1311.9 C1170,1311.9 1172,1309.6 1178,1309.9 S1195,1315 1206,1315 H1364.3" fill="none" stroke="#040404" stroke-width="3" />
<path d="M1206,1208.4L1206,1315" stroke="#040404" stroke-width="2.3" fill="none" />
<path d="M1293,1201L1293,1327.5" stroke="#040404" stroke-width="2" fill="none" stroke-dasharray="40 5 7 5"/>
<path d="M1301.2,1201L1301.2,1327.5" stroke="#040404" stroke-width="2" fill="none" stroke-dasharray="40 5 7 5"/>
<path d="M1364.3,1211 V1192.5 H1409 L1424,1196.5 L1419,1211 Z" fill="url(#hX)" stroke="#040404" stroke-width="2.6" />
<path d="M1378.7,1192.5 L1382.5,1184.4 L1403,1184.4 L1407.2,1192.5" fill="url(#hS)" stroke="#040404" stroke-width="2.4" />
<path d="M1364.3,1195L1364.3,1330.5" stroke="#040404" stroke-width="2.6" fill="none" />
<path d="M1375.7,1210.5L1375.7,1326.4" stroke="#040404" stroke-width="2.3" fill="none" />
<path d="M1382,1210.5L1382,1326.4" stroke="#040404" stroke-width="2.3" fill="none" />
<path d="M1404.7,1210.5L1404.7,1261.7" stroke="#040404" stroke-width="2.3" fill="none" />
<path d="M1410,1210.5L1410,1261.7" stroke="#040404" stroke-width="2.3" fill="none" />
<path d="M1421.3,1208.4L1421.3,1261.7" stroke="#040404" stroke-width="2.3" fill="none" />
<path d="M1442,1208.4L1442,1261.7" stroke="#040404" stroke-width="2.3" fill="none" />
<path d="M1410,1208.4L1442,1208.4" stroke="#040404" stroke-width="2.3" fill="none" />
<path d="M1364.3,1330.5 H1409.3 V1261.7" fill="none" stroke="#040404" stroke-width="2.6" />
<path d="M1375.7,1326.4 H1408" fill="none" stroke="#040404" stroke-width="3.2" />
<path d="M1442,1211.5 H1472 C1476,1211.5 1477,1209 1480.7,1209 H1509.7 C1514,1209 1516,1211.5 1524,1211.5 H1772 C1776,1211.5 1777,1209.5 1779,1209.5" fill="none" stroke="#040404" stroke-width="3" />
<path d="M1480.7,1209L1480.7,1261.7" stroke="#040404" stroke-width="2.3" fill="none" />
<path d="M1509.7,1209L1509.7,1261.7" stroke="#040404" stroke-width="3" fill="none" />
<path d="M1417.6,1202.2 L1422.3,1198 Q1426.9,1193.9 1433.6,1188.2 L1433.6,1188.2 Q1440.4,1182.5 1445,1175.8 L1445,1175.8 Q1449.7,1169 1452,1162.8 L1452,1162.8 Q1454.2,1156.6 1458.2,1152.7 L1458.6,1152.3 Q1462.1,1148.8 1467,1150 L1472.5,1151.3 Q1482.8,1153.9 1490.1,1159.2 L1490.1,1159.2 Q1497.3,1164.5 1504,1169.2 L1506.2,1170.7 Q1510.8,1173.8 1513.1,1168.8 L1518.3,1157.9 Q1524.2,1145.2 1529.4,1132.3 L1529.4,1132.3 Q1534.6,1119.4 1537.9,1116.4 L1538.2,1116 Q1541.2,1113.4 1544.7,1115.3 L1549.3,1117.9 Q1557.3,1122.5 1566.7,1131.5 L1566.7,1131.5 Q1576,1140.5 1581.2,1144.9 L1582.2,1145.8 Q1586.3,1149.4 1588.6,1144.4 L1592.9,1135.2 Q1598.8,1122.5 1604.8,1109.8 L1604.8,1109.8 Q1610.8,1097.2 1614.3,1094.4 L1614.7,1094.1 Q1617.8,1091.6 1621.2,1093.7 L1625.9,1096.7 Q1634,1101.8 1641.2,1110.9 L1641.2,1110.9 Q1648.4,1120 1653.6,1126.2 L1655.3,1128.2 Q1658.8,1132.4 1661.1,1127.4 L1665.3,1118.6 Q1671.2,1105.9 1677.2,1094.8 L1677.2,1094.8 Q1683.2,1083.7 1687.2,1081.5 L1687.6,1081.2 Q1691.1,1079.2 1694.3,1081.6 L1698.8,1085.1 Q1706.4,1091 1713.7,1100.3 L1713.7,1100.3 Q1720.9,1109.6 1726.1,1118.1 L1728.4,1121.9 Q1731.3,1126.6 1733.5,1121.6 L1736.4,1115.2 Q1741.6,1103.8 1747.2,1091 L1749.4,1086 Q1755.1,1073.2 1759.2,1071.2 L1759.7,1071 Q1763.4,1069.3 1766.5,1071.7 L1771.1,1075.2 Q1778.9,1081.1 1784.1,1085 L1784.1,1085 Q1789.2,1088.9 1793.4,1089.8 L1797.5,1090.6" fill="none" stroke="#040404" stroke-width="8.8" stroke-linejoin="round"/>
<path d="M1417.6,1202.2 L1422.3,1198 Q1426.9,1193.9 1433.6,1188.2 L1433.6,1188.2 Q1440.4,1182.5 1445,1175.8 L1445,1175.8 Q1449.7,1169 1452,1162.8 L1452,1162.8 Q1454.2,1156.6 1458.2,1152.7 L1458.6,1152.3 Q1462.1,1148.8 1467,1150 L1472.5,1151.3 Q1482.8,1153.9 1490.1,1159.2 L1490.1,1159.2 Q1497.3,1164.5 1504,1169.2 L1506.2,1170.7 Q1510.8,1173.8 1513.1,1168.8 L1518.3,1157.9 Q1524.2,1145.2 1529.4,1132.3 L1529.4,1132.3 Q1534.6,1119.4 1537.9,1116.4 L1538.2,1116 Q1541.2,1113.4 1544.7,1115.3 L1549.3,1117.9 Q1557.3,1122.5 1566.7,1131.5 L1566.7,1131.5 Q1576,1140.5 1581.2,1144.9 L1582.2,1145.8 Q1586.3,1149.4 1588.6,1144.4 L1592.9,1135.2 Q1598.8,1122.5 1604.8,1109.8 L1604.8,1109.8 Q1610.8,1097.2 1614.3,1094.4 L1614.7,1094.1 Q1617.8,1091.6 1621.2,1093.7 L1625.9,1096.7 Q1634,1101.8 1641.2,1110.9 L1641.2,1110.9 Q1648.4,1120 1653.6,1126.2 L1655.3,1128.2 Q1658.8,1132.4 1661.1,1127.4 L1665.3,1118.6 Q1671.2,1105.9 1677.2,1094.8 L1677.2,1094.8 Q1683.2,1083.7 1687.2,1081.5 L1687.6,1081.2 Q1691.1,1079.2 1694.3,1081.6 L1698.8,1085.1 Q1706.4,1091 1713.7,1100.3 L1713.7,1100.3 Q1720.9,1109.6 1726.1,1118.1 L1728.4,1121.9 Q1731.3,1126.6 1733.5,1121.6 L1736.4,1115.2 Q1741.6,1103.8 1747.2,1091 L1749.4,1086 Q1755.1,1073.2 1759.2,1071.2 L1759.7,1071 Q1763.4,1069.3 1766.5,1071.7 L1771.1,1075.2 Q1778.9,1081.1 1784.1,1085 L1784.1,1085 Q1789.2,1088.9 1793.4,1089.8 L1797.5,1090.6" fill="none" stroke="#fff" stroke-width="3.6" stroke-linejoin="round"/>
<path d="M1417.6,1202.2 L1422.3,1198 Q1426.9,1193.9 1433.6,1188.2 L1433.6,1188.2 Q1440.4,1182.5 1445,1175.8 L1445,1175.8 Q1449.7,1169 1452,1162.8 L1452,1162.8 Q1454.2,1156.6 1458.2,1152.7 L1458.6,1152.3 Q1462.1,1148.8 1467,1150 L1472.5,1151.3 Q1482.8,1153.9 1490.1,1159.2 L1490.1,1159.2 Q1497.3,1164.5 1504,1169.2 L1506.2,1170.7 Q1510.8,1173.8 1513.1,1168.8 L1518.3,1157.9 Q1524.2,1145.2 1529.4,1132.3 L1529.4,1132.3 Q1534.6,1119.4 1537.9,1116.4 L1538.2,1116 Q1541.2,1113.4 1544.7,1115.3 L1549.3,1117.9 Q1557.3,1122.5 1566.7,1131.5 L1566.7,1131.5 Q1576,1140.5 1581.2,1144.9 L1582.2,1145.8 Q1586.3,1149.4 1588.6,1144.4 L1592.9,1135.2 Q1598.8,1122.5 1604.8,1109.8 L1604.8,1109.8 Q1610.8,1097.2 1614.3,1094.4 L1614.7,1094.1 Q1617.8,1091.6 1621.2,1093.7 L1625.9,1096.7 Q1634,1101.8 1641.2,1110.9 L1641.2,1110.9 Q1648.4,1120 1653.6,1126.2 L1655.3,1128.2 Q1658.8,1132.4 1661.1,1127.4 L1665.3,1118.6 Q1671.2,1105.9 1677.2,1094.8 L1677.2,1094.8 Q1683.2,1083.7 1687.2,1081.5 L1687.6,1081.2 Q1691.1,1079.2 1694.3,1081.6 L1698.8,1085.1 Q1706.4,1091 1713.7,1100.3 L1713.7,1100.3 Q1720.9,1109.6 1726.1,1118.1 L1728.4,1121.9 Q1731.3,1126.6 1733.5,1121.6 L1736.4,1115.2 Q1741.6,1103.8 1747.2,1091 L1749.4,1086 Q1755.1,1073.2 1759.2,1071.2 L1759.7,1071 Q1763.4,1069.3 1766.5,1071.7 L1771.1,1075.2 Q1778.9,1081.1 1784.1,1085 L1784.1,1085 Q1789.2,1088.9 1793.4,1089.8 L1797.5,1090.6" fill="none" stroke="url(#hS)" stroke-width="3.6" stroke-linejoin="round"/>
<path d="M1409.3,1330.5 L1417.1,1331.9 Q1424.8,1333.2 1433.1,1338.6 L1433.1,1338.6 Q1441.4,1344 1446.1,1352.3 L1446.1,1352.3 Q1450.7,1360.6 1452.5,1366.6 L1452.5,1366.6 Q1454.2,1372.6 1458.2,1374.6 L1458.2,1374.6 Q1462.1,1376.7 1472.5,1374.4 L1472.5,1374.4 Q1482.8,1372.2 1492.1,1366.6 L1492.1,1366.6 Q1501.4,1361 1506.1,1357.1 L1508.4,1355.2 Q1510.8,1353.3 1512.5,1355.8 L1513.4,1356.9 Q1515.9,1360.6 1520.5,1371.7 L1530.1,1395.4 Q1534.6,1406.5 1538.7,1409.4 L1538.7,1409.4 Q1542.9,1412.3 1553.8,1407.4 L1554.7,1406.9 Q1565.6,1402 1573.7,1393.1 L1574.1,1392.6 Q1582.2,1383.7 1584.8,1381 L1585.3,1380.4 Q1587.4,1378.2 1589.2,1380.6 L1589.4,1381 Q1591.5,1383.7 1595.8,1394.9 L1604.8,1418.1 Q1609.1,1429.3 1613.8,1433.7 L1613.8,1433.7 Q1618.4,1438.2 1628.3,1433.5 L1628.3,1433.5 Q1638.1,1428.9 1644.4,1418.7 L1648.4,1412.2 Q1654.7,1402 1657.2,1397.8 L1658.2,1396.2 Q1659.8,1393.7 1661.4,1396.2 L1661.9,1397 Q1664,1400.3 1669.2,1411.1 L1677.4,1428.4 Q1682.6,1439.2 1686.7,1443.2 L1686.7,1443.2 Q1690.9,1447.1 1700.7,1441.6 L1700.7,1441.6 Q1710.6,1436.1 1716.6,1425.7 L1720.1,1419.6 Q1726.1,1409.2 1728.7,1404.6 L1729.8,1402.5 Q1731.3,1399.9 1733.1,1402.3 L1733.9,1403.2 Q1736.4,1406.5 1741.2,1417.5 L1750.3,1438.6 Q1755.1,1449.6 1758.9,1452.9 L1758.9,1452.9 Q1762.7,1456.2 1767.7,1453.9 L1767.7,1453.9 Q1772.7,1451.7 1780.3,1448 L1788,1444.4" fill="none" stroke="#040404" stroke-width="3" />
<path d="M1463.1,1261.7L1463.1,1368.8" stroke="#040404" stroke-width="2.3" fill="none" />
<path d="M1510.8,1261.7L1510.8,1350.2" stroke="#040404" stroke-width="2.3" fill="none" />
<path d="M1542.9,1261.7L1542.9,1403" stroke="#040404" stroke-width="2.3" fill="none" />
<path d="M1587.4,1261.7L1587.4,1375.1" stroke="#040404" stroke-width="2.3" fill="none" />
<path d="M1619.5,1261.7L1619.5,1425.8" stroke="#040404" stroke-width="2.3" fill="none" />
<path d="M1659.8,1261.7L1659.8,1391.6" stroke="#040404" stroke-width="2.3" fill="none" />
<path d="M1690.9,1261.7L1690.9,1436.7" stroke="#040404" stroke-width="2.3" fill="none" />
<path d="M1731.3,1261.7L1731.3,1397.8" stroke="#040404" stroke-width="2.3" fill="none" />
<path d="M1763.4,1261.7L1763.4,1446.7" stroke="#040404" stroke-width="2.3" fill="none" />
<path d="M1791.7,1095 L1866.3,1091.1 L1878.7,1096.6 L1894.2,1104.3 L1916.7,1115.2 L1954,1120.7 L1961.8,1123.8 L1964.1,1130.7 L1970.3,1140.1 L1979.6,1143.6 L1992,1144.4 L1992,1144.4 C1992.5,1146.8 1994.1,1152.4 1994.8,1158.7 C1995.6,1165 1996,1174.2 1996.4,1182 C1996.8,1189.8 1997.2,1198.3 1997,1205.3 C1996.8,1212.3 1995.9,1218 1995.2,1223.9 C1994.5,1229.9 1993.6,1234.7 1992.8,1241 C1992,1247.3 1990.9,1258.1 1990.5,1261.5 L1984.6,1261.5 C1984.3,1257.3 1984.4,1243.1 1983,1236.3 C1981.7,1229.6 1979.4,1227.3 1976.5,1220.8 C1973.6,1214.3 1969,1205.3 1965.7,1197.5 C1962.3,1189.8 1959.2,1180.7 1956.3,1174.2 C1953.5,1167.8 1951.2,1162.5 1948.6,1158.7 C1946,1154.9 1943.7,1153.1 1940.8,1151.2 C1938,1149.4 1933,1148.4 1931.5,1147.8 L1931.5,1147.8 C1931,1147.7 1932,1148.9 1928.4,1147 C1924.8,1145.2 1916.5,1141 1909.8,1137 C1903,1132.9 1895.3,1127.1 1888,1123 C1880.8,1118.9 1873.5,1114.6 1866.3,1112.4 C1859,1110.2 1852.8,1110.2 1844.5,1109.8 C1836.3,1109.3 1825.4,1109.3 1816.6,1109.8 C1807.8,1110.2 1795.9,1112 1791.7,1112.4 Z" fill="url(#hB)" stroke="#040404" stroke-width="3" stroke-linejoin="round"/>
<path d="M1914.4,1147.4L1931.5,1147.8" stroke="#040404" stroke-width="2.4" fill="none" />
<rect x="1791.7" y="1078.7" width="55.1" height="16.3" fill="#fff" stroke="none"/>
<rect x="1791.7" y="1078.7" width="55.1" height="16.3" fill="url(#hX)" stroke="#040404" stroke-width="2.8"/>
<path d="M1806.5,1078.7 L1808.4,1071.7 L1829,1071.7 L1831.3,1078.7" fill="url(#hBf)" stroke="#040404" stroke-width="2.4" />
<path d="M1786.3,1147.8 L1815,1136.2 L1816.6,1149.4 L1793.3,1158.7 L1787.1,1157.1Z" fill="url(#hB)" stroke="#040404" stroke-width="2.4" />
<path d="M1885.7,1137 L1912.1,1149.4 L1912.1,1161 L1888,1154Z" fill="url(#hB)" stroke="#040404" stroke-width="2.4" />
<path d="M1801.1,1208.7 C1802,1208.1 1803.9,1207.7 1806.5,1205.3 C1809.1,1202.9 1812.3,1197.8 1816.6,1194.4 C1820.9,1191 1826.9,1187.4 1832.1,1185.1 C1837.3,1182.8 1842.5,1181.4 1847.6,1180.4 C1852.8,1179.5 1858,1178.9 1863.2,1179.2 C1868.3,1179.5 1873.5,1180.2 1878.7,1182 C1883.9,1183.7 1889.6,1186.4 1894.2,1189.8 C1898.9,1193.1 1903.9,1199 1906.6,1202.2 C1909.4,1205.3 1909.9,1207.6 1910.5,1208.7 Z" fill="url(#hI)" stroke="#040404" stroke-width="2.6" />
<circle cx="1850" cy="1146.3" r="33.4" fill="#fff" stroke="#040404" stroke-width="2.8"/>
<path d="M1800.3,1209.9L1916,1209.9" stroke="#040404" stroke-width="4.8" fill="none" />
<path d="M1786.3,1157.1L1786.3,1261.7" stroke="#040404" stroke-width="2.3" fill="none" />
<path d="M1791.7,1095L1791.7,1141.6" stroke="#040404" stroke-width="3" fill="none" />
<path d="M1791.7,1158.7L1791.7,1261.7" stroke="#040404" stroke-width="2.6" fill="none" />
<path d="M1794.8,1158.7L1794.8,1261.7" stroke="#040404" stroke-width="3.4" fill="none" />
<path d="M1798.3,1158.7L1798.3,1261.7" stroke="#040404" stroke-width="2.3" fill="none" />
<path d="M1798.3,1158.7 L1807.3,1157.1 L1807.3,1178.9 L1798.3,1183.9" fill="none" stroke="#040404" stroke-width="2.2" />
<path d="M1793.3,1130.7 L1801.1,1138.5" fill="none" stroke="#040404" stroke-width="2.2" />
<path d="M1907.4,1161L1907.4,1261.7" stroke="#040404" stroke-width="2.3" fill="none" />
<path d="M1912.1,1149.4L1912.1,1261.7" stroke="#040404" stroke-width="2.8" fill="none" />
<path d="M1915.2,1147.4L1915.2,1261.7" stroke="#040404" stroke-width="2.6" fill="none" />
<path d="M1918.6,1213L1918.6,1261.7" stroke="#040404" stroke-width="2.3" fill="none" />
<path d="M1912.1,1213L1918.6,1213" stroke="#040404" stroke-width="2.2" fill="none" />
<path d="M1915.2,1182 A18,28 0 0 1 1915.2,1237.9" fill="none" stroke="#040404" stroke-width="2.4" />
<path d="M1777.8,1211.8L1777.8,1261.7" stroke="#040404" stroke-width="2.3" fill="none" />
<path d="M1786.3,1211.8L1786.3,1261.7" stroke="#040404" stroke-width="2.3" fill="none" />
<path d="M1803.4,1211.8L1803.4,1261.7" stroke="#040404" stroke-width="2.3" fill="none" />
<path d="M1808.8,1211.8L1808.8,1261.7" stroke="#040404" stroke-width="2.3" fill="none" />
<path d="M1903.5,1211.8L1903.5,1261.7" stroke="#040404" stroke-width="2.3" fill="none" />
<path d="M1833.7,1095L1833.7,1261.7" stroke="#040404" stroke-width="2.2" fill="none" stroke-dasharray="17 6"/>
<path d="M1850,1095L1850,1261.7" stroke="#040404" stroke-width="2.2" fill="none" stroke-dasharray="17 6"/>
<path d="M1866.3,1095L1866.3,1261.7" stroke="#040404" stroke-width="2.2" fill="none" stroke-dasharray="17 6"/>
<path d="M1887.2,1211.8 L1887.2,1219.3 L1892.7,1219.3 L1892.7,1211.8" fill="none" stroke="#040404" stroke-width="2" />
<path d="M1887.2,1221.6L1887.2,1261.7" stroke="#040404" stroke-width="2.3" fill="none" />
<path d="M1892.7,1221.6L1892.7,1261.7" stroke="#040404" stroke-width="2.3" fill="none" />
<rect x="1916.4" y="1100.4" width="38.3" height="18.6" fill="#fff" stroke="#040404" stroke-width="2.6"/>
<rect x="1919.5" y="1106" width="33" height="13" fill="url(#hBf)" stroke="#040404" stroke-width="1.8"/>
<path d="M1992,1144.4 L2002.9,1144.4 L2009.1,1149.4" fill="none" stroke="#040404" stroke-width="3" />
<path d="M1999.8,1144.5L1999.8,1377" stroke="#040404" stroke-width="2.2" fill="none" />
<path d="M2009,1149.5L2009,1374" stroke="#040404" stroke-width="3" fill="none" />
<path d="M2009,1184 C2010,1200 2018,1204.5 2029,1206.5 L2041.7,1208.2" fill="none" stroke="#040404" stroke-width="3" />
<path d="M2009,1339 C2010,1323 2018,1318.8 2029,1317 L2041.7,1315.2" fill="none" stroke="#040404" stroke-width="3" />
<path d="M2027,1207L2027,1318" stroke="#040404" stroke-width="2.2" fill="none" />
<path d="M2041.7,1207.6L2041.7,1315.8" stroke="#040404" stroke-width="2.2" fill="none" />
<path d="M1916.4,1263.2 V1422.3 H1953.6 V1263.2 M1916.4,1273.8 H1953.6 M1916.4,1284.4 H1953.6 M1916.4,1295 H1953.6 M1916.4,1305.6 H1953.6 M1916.4,1316.2 H1953.6 M1916.4,1326.8 H1953.6 M1916.4,1337.4 H1953.6 M1916.4,1348.1 H1953.6 M1916.4,1358.7 H1953.6 M1916.4,1369.3 H1953.6 M1916.4,1379.9 H1953.6 M1916.4,1390.5 H1953.6 M1916.4,1401.1 H1953.6 M1916.4,1411.7 H1953.6" fill="none" stroke="#040404" stroke-width="2.7" />
<path d="M1956.7,1261.7L1956.7,1402.7" stroke="#040404" stroke-width="2.2" fill="none" />
<path d="M1962,1261.7L1962,1402.7" stroke="#040404" stroke-width="2.2" fill="none" />
<path d="M1956.7,1402.7 H1962 C1964,1392 1970,1382.5 1980,1381.5 L1998,1380 L2008.5,1374" fill="none" stroke="#040404" stroke-width="3" />
<path d="M1763.2,1455.6 C1765.1,1455 1770.5,1453.8 1774.7,1451.8 C1778.8,1449.8 1783.3,1445.1 1788.1,1443.7 C1792.9,1442.4 1800.9,1443.7 1803.4,1443.7" fill="none" stroke="#040404" stroke-width="3" />
<path d="M1803.4,1443.7 L1834,1443.7 L1846.7,1443.7 L1846.7,1432.6 L1866.6,1432.6 L1916.4,1406.6" fill="none" stroke="#040404" stroke-width="3" />
<path d="M1803.4,1441.5L1834,1441.5" stroke="#040404" stroke-width="4.2" fill="none" />
<path d="M1803.4,1261.7L1803.4,1443.7" stroke="#040404" stroke-width="2.2" fill="none" />
<path d="M1834,1261.7L1834,1443.7" stroke="#040404" stroke-width="2.2" fill="none" />
<path d="M1846.7,1261.7L1846.7,1443.7" stroke="#040404" stroke-width="2.2" fill="none" />
<path d="M1866.6,1261.7L1866.6,1432.6" stroke="#040404" stroke-width="2.2" fill="none" />
<path d="M2041.7,1208.2L2240.5,1208.2" stroke="#040404" stroke-width="4.2" fill="none" />
<path d="M2041.7,1315.2L2240.5,1315.2" stroke="#040404" stroke-width="4.2" fill="none" />
<path d="M2047,1212.6L2238,1212.6" stroke="#040404" stroke-width="1.6" fill="none" />
<path d="M2047,1310.8L2238,1310.8" stroke="#040404" stroke-width="1.6" fill="none" />
<path d="M2047,1208L2047,1315.4" stroke="#040404" stroke-width="2.2" fill="none" />
<path d="M2240.5,1208.2 L2247.8,1217.2 H2260 " fill="none" stroke="#040404" stroke-width="3" />
<path d="M2240.5,1315.2 L2247.8,1306.2 H2260 " fill="none" stroke="#040404" stroke-width="3" />
<path d="M2249.8,1217.2L2249.8,1306.2" stroke="#040404" stroke-width="2.2" fill="none" />
<path d="M2258,1217.4L2258,1306" stroke="#040404" stroke-width="2.2" fill="none" />
<path d="M2261.2,1217.4L2261.2,1306" stroke="#040404" stroke-width="2.2" fill="none" />
<path d="M2260,1217.4L2284,1217.4" stroke="#040404" stroke-width="3" fill="none" />
<path d="M2260,1306L2284,1306" stroke="#040404" stroke-width="3" fill="none" />
<rect x="2284" y="1184.9" width="14.5" height="153.6" rx="1.5" fill="#fff" stroke="#040404" stroke-width="2.8"/>
<path d="M2298.5,1193.6 H2333.7 L2344,1212 V1311.4 L2333.7,1329.8 H2298.5" fill="#fff" stroke="#040404" stroke-width="3" />
<path d="M2301.5,1201.8L2333.7,1201.8" stroke="#040404" stroke-width="2.4" fill="none" />
<path d="M2301.5,1217.4L2340,1217.4" stroke="#040404" stroke-width="2.4" fill="none" />
<path d="M2301.5,1228.8L2340,1228.8" stroke="#040404" stroke-width="2.4" fill="none" />
<path d="M2301.5,1246.4L2340,1246.4" stroke="#040404" stroke-width="2.4" fill="none" />
<path d="M2301.5,1261.7L2340,1261.7" stroke="#040404" stroke-width="2.4" fill="none" />
<path d="M2301.5,1277L2340,1277" stroke="#040404" stroke-width="2.4" fill="none" />
<path d="M2301.5,1294.6L2340,1294.6" stroke="#040404" stroke-width="2.4" fill="none" />
<path d="M2301.5,1306L2340,1306" stroke="#040404" stroke-width="2.4" fill="none" />
<path d="M2301.5,1321.6L2333.7,1321.6" stroke="#040404" stroke-width="2.4" fill="none" />
<path d="M2301.5,1193.6 L2298.8,1197.7 L2301.5,1201.8 L2298.8,1209.6 L2301.5,1217.4 L2298.8,1223.1 L2301.5,1228.8 L2298.8,1237.6 L2301.5,1246.4 L2298.8,1254.1 L2301.5,1261.7 L2298.8,1269.3 L2301.5,1277 L2298.8,1285.8 L2301.5,1294.6 L2298.8,1300.3 L2301.5,1306 L2298.8,1313.8 L2301.5,1321.6 L2298.8,1325.7 L2301.5,1329.8" fill="none" stroke="#040404" stroke-width="2" />
<path d="M2333.7,1193.6L2333.7,1329.8" stroke="#040404" stroke-width="2" fill="none" />
<path d="M2344,1211.2 H2372 V1312.2 H2344" fill="#fff" stroke="#040404" stroke-width="3" />
<path d="M2372,1217 H2390.5 L2394.7,1221 V1302 L2390.5,1306 H2372" fill="#fff" stroke="#040404" stroke-width="3" />
<path d="M2372,1235L2394.7,1235" stroke="#040404" stroke-width="2.2" fill="none" />
<path d="M2372,1249L2394.7,1249" stroke="#040404" stroke-width="2.2" fill="none" />
<path d="M2375,1236L2388,1248" stroke="#040404" stroke-width="2.2" fill="none" />
<path d="M2389.5,1249L2389.5,1305" stroke="#040404" stroke-width="2.2" fill="none" />
<path d="M2390.5,1217L2390.5,1235" stroke="#040404" stroke-width="1.8" fill="none" />
<path d="M98.6,1261.7L616,1261.7" stroke="#040404" stroke-width="2.3" fill="none" stroke-dasharray="41 7 10 7"/>
<path d="M616,1261.7L1250,1261.7" stroke="#040404" stroke-width="2.6" fill="none" />
<path d="M1250,1261.7L1496,1261.7" stroke="#040404" stroke-width="2.3" fill="none" stroke-dasharray="41 7 10 7"/>
<path d="M1496,1261.7L1790,1261.7" stroke="#040404" stroke-width="3" fill="none" stroke-dasharray="40 7"/>
<path d="M1700,1261.7L2041,1261.7" stroke="#040404" stroke-width="2.4" fill="none" stroke-dasharray="30 8"/>
<path d="M2041,1261.7L2402,1261.7" stroke="#040404" stroke-width="2.3" fill="none" stroke-dasharray="41 7 10 7"/>
<text y="988" font-family="'Liberation Serif',serif" font-size="49" fill="#040404" stroke="#040404" stroke-width="0.45"><tspan x="150.2" textLength="18.1" lengthAdjust="spacingAndGlyphs">2</tspan><tspan x="170" textLength="18.1" lengthAdjust="spacingAndGlyphs">0</tspan><tspan x="190.3" textLength="17" lengthAdjust="spacingAndGlyphs">/</tspan><tspan x="209.5" textLength="18.1" lengthAdjust="spacingAndGlyphs">1</tspan><tspan x="229.4" textLength="9.1" lengthAdjust="spacingAndGlyphs">.</tspan><tspan x="249" textLength="18.1" lengthAdjust="spacingAndGlyphs">2</tspan><tspan x="268.7" textLength="18.1" lengthAdjust="spacingAndGlyphs">7</tspan><tspan x="289" textLength="17" lengthAdjust="spacingAndGlyphs">/</tspan><tspan x="308.2" textLength="18.1" lengthAdjust="spacingAndGlyphs">3</tspan><tspan x="328" textLength="18.1" lengthAdjust="spacingAndGlyphs">0</tspan><tspan x="349" textLength="15.7" lengthAdjust="spacingAndGlyphs">°</tspan></text>
<path d="M455.8,997.6 H136 V1190" fill="none" stroke="#040404" stroke-width="2.5" />
<path d="M136,1208 L131.4,1186 L140.6,1186Z" fill="#040404" stroke="none"/>
<text y="1042" font-family="'Liberation Serif',serif" font-size="49" fill="#040404" stroke="#040404" stroke-width="0.45"><tspan x="140.5" textLength="18.7" lengthAdjust="spacingAndGlyphs">M</tspan><tspan x="158.4" textLength="22.1" lengthAdjust="spacingAndGlyphs">=</tspan><tspan x="180" textLength="18.1" lengthAdjust="spacingAndGlyphs">2</tspan><tspan x="199.6" textLength="18.1" lengthAdjust="spacingAndGlyphs">9</tspan><tspan x="219.4" textLength="9.1" lengthAdjust="spacingAndGlyphs">.</tspan><tspan x="238.7" textLength="18.1" lengthAdjust="spacingAndGlyphs">0</tspan><tspan x="258.3" textLength="18.1" lengthAdjust="spacingAndGlyphs">6</tspan><tspan x="282.8" textLength="13.1" lengthAdjust="spacingAndGlyphs">(</tspan><tspan x="298.2" textLength="16.9" lengthAdjust="spacingAndGlyphs" font-style="italic" font-size="45.6" dy="-3">ϕ</tspan><tspan x="317.1" textLength="18.1" lengthAdjust="spacingAndGlyphs" dy="3">2</tspan><tspan x="336.9" textLength="9.1" lengthAdjust="spacingAndGlyphs">.</tspan><tspan x="356.3" textLength="18.1" lengthAdjust="spacingAndGlyphs">4</tspan><tspan x="375.9" textLength="18.1" lengthAdjust="spacingAndGlyphs">3</tspan><tspan x="395.5" textLength="18.1" lengthAdjust="spacingAndGlyphs">8</tspan><tspan x="415.3" textLength="13.1" lengthAdjust="spacingAndGlyphs">)</tspan></text>
<text y="1109.4" font-family="'Liberation Serif',serif" font-size="49" fill="#040404" stroke="#040404" stroke-width="0.45"><tspan x="287.3" textLength="16.9" lengthAdjust="spacingAndGlyphs" font-style="italic" font-size="45.6" dy="-3">ϕ</tspan><tspan x="305.9" textLength="18.1" lengthAdjust="spacingAndGlyphs" dy="3">2</tspan><tspan x="325.2" textLength="18.1" lengthAdjust="spacingAndGlyphs">8</tspan></text>
<path d="M353,1121 H286 V1180" fill="none" stroke="#040404" stroke-width="2.5" />
<path d="M286,1204.7 L280.4,1176.7 L291.6,1176.7Z" fill="#040404" stroke="none"/>
<text y="1084.6" font-family="'Liberation Serif',serif" font-size="49" fill="#040404" stroke="#040404" stroke-width="0.45"><tspan x="395.9" textLength="16.9" lengthAdjust="spacingAndGlyphs" font-style="italic" font-size="45.6" dy="-3">ϕ</tspan><tspan x="414.1" textLength="18.1" lengthAdjust="spacingAndGlyphs" dy="3">3</tspan><tspan x="433" textLength="18.1" lengthAdjust="spacingAndGlyphs">5</tspan></text>
<path d="M462,1096.4 H395 V1166" fill="none" stroke="#040404" stroke-width="2.5" />
<path d="M395,1190 L389.4,1162 L400.6,1162Z" fill="#040404" stroke="none"/>
<path d="M240.5,1316L240.5,1376" stroke="#040404" stroke-width="2.5" fill="none" />
<path d="M370,1322L370,1542" stroke="#040404" stroke-width="2.5" fill="none" />
<path d="M240.5,1368.4L370,1368.4" stroke="#040404" stroke-width="2.5" fill="none" />
<path d="M240.5,1368.4 L268.5,1363.2 L268.5,1373.6Z" fill="#040404" stroke="none"/>
<path d="M370,1368.4 L342,1363.2 L342,1373.6Z" fill="#040404" stroke="none"/>
<text y="1361.8" font-family="'Liberation Serif',serif" font-size="49" fill="#040404" stroke="#040404" stroke-width="0.45"><tspan x="267.9" textLength="18.1" lengthAdjust="spacingAndGlyphs">3</tspan><tspan x="286.7" textLength="18.1" lengthAdjust="spacingAndGlyphs">2</tspan><tspan x="305.9" textLength="9.1" lengthAdjust="spacingAndGlyphs">.</tspan><tspan x="324.4" textLength="18.1" lengthAdjust="spacingAndGlyphs">2</tspan></text>
<path d="M158,1316L158,1450" stroke="#040404" stroke-width="2.5" fill="none" />
<path d="M158,1442L370,1442" stroke="#040404" stroke-width="2.5" fill="none" />
<path d="M158,1442 L186,1436.8 L186,1447.2Z" fill="#040404" stroke="none"/>
<path d="M370,1442 L342,1436.8 L342,1447.2Z" fill="#040404" stroke="none"/>
<text y="1436" font-family="'Liberation Serif',serif" font-size="49" fill="#040404" stroke="#040404" stroke-width="0.45"><tspan x="226" textLength="18.1" lengthAdjust="spacingAndGlyphs">5</tspan><tspan x="245.3" textLength="18.1" lengthAdjust="spacingAndGlyphs">2</tspan><tspan x="264.8" textLength="9.1" lengthAdjust="spacingAndGlyphs">.</tspan><tspan x="283.7" textLength="18.1" lengthAdjust="spacingAndGlyphs">7</tspan></text>
<path d="M116.2,1300L116.2,1650" stroke="#040404" stroke-width="2.5" fill="none" />
<path d="M116.2,1532.6L370,1532.6" stroke="#040404" stroke-width="2.5" fill="none" />
<path d="M116.2,1532.6 L144.2,1527.4 L144.2,1537.8Z" fill="#040404" stroke="none"/>
<path d="M370,1532.6 L342,1527.4 L342,1537.8Z" fill="#040404" stroke="none"/>
<text y="1527" font-family="'Liberation Serif',serif" font-size="49" fill="#040404" stroke="#040404" stroke-width="0.45"><tspan x="205" textLength="18.1" lengthAdjust="spacingAndGlyphs">6</tspan><tspan x="224.3" textLength="18.1" lengthAdjust="spacingAndGlyphs">3</tspan><tspan x="243.9" textLength="9.1" lengthAdjust="spacingAndGlyphs">.</tspan><tspan x="263" textLength="18.1" lengthAdjust="spacingAndGlyphs">2</tspan></text>
<path d="M116.2,1641L2394.6,1641" stroke="#040404" stroke-width="2.5" fill="none" />
<path d="M116.2,1641 L144.2,1635.8 L144.2,1646.2Z" fill="#040404" stroke="none"/>
<path d="M2394.6,1641 L2366.6,1635.8 L2366.6,1646.2Z" fill="#040404" stroke="none"/>
<text y="1619.5" font-family="'Liberation Serif',serif" font-size="49" stroke-width="0.45"><tspan fill="#555" stroke="#555"><tspan x="1090.6" textLength="13.1" lengthAdjust="spacingAndGlyphs">(</tspan><tspan x="1104.3" textLength="15.4" lengthAdjust="spacingAndGlyphs">C</tspan><tspan x="1121.1" textLength="15.2" lengthAdjust="spacingAndGlyphs">O</tspan><tspan x="1137.8" textLength="15.6" lengthAdjust="spacingAndGlyphs">L</tspan><tspan x="1153.8" textLength="13.1" lengthAdjust="spacingAndGlyphs">)</tspan></tspan> <tspan fill="#040404" stroke="#040404"><tspan x="1179.9" textLength="18.1" lengthAdjust="spacingAndGlyphs">6</tspan><tspan x="1198.4" textLength="18.1" lengthAdjust="spacingAndGlyphs">5</tspan><tspan x="1216.8" textLength="18.1" lengthAdjust="spacingAndGlyphs">1</tspan></tspan> <tspan fill="#040404" stroke="#040404"><tspan x="1244.9" textLength="24.2" lengthAdjust="spacingAndGlyphs">±</tspan></tspan> <tspan fill="#040404" stroke="#040404"><tspan x="1281.4" textLength="18.1" lengthAdjust="spacingAndGlyphs">3</tspan><tspan x="1304.7" textLength="13.1" lengthAdjust="spacingAndGlyphs">(</tspan><tspan x="1318.5" textLength="18.1" lengthAdjust="spacingAndGlyphs">6</tspan><tspan x="1337.1" textLength="18.1" lengthAdjust="spacingAndGlyphs">7</tspan><tspan x="1355.6" textLength="18.1" lengthAdjust="spacingAndGlyphs">6</tspan><tspan x="1374.5" textLength="13.1" lengthAdjust="spacingAndGlyphs">)</tspan></tspan></text>
<path d="M592.8,1538 H711.9 V1462" stroke="#040404" stroke-width="2.5" fill="none"/>
<path d="M711.9,1437.7 L706.9,1463.7 L716.9,1463.7Z" fill="#040404" stroke="none"/>
<text y="1530.8" font-family="'Liberation Serif',serif" font-size="49" fill="#040404" stroke="#040404" stroke-width="0.45"><tspan x="604.1" textLength="16.9" lengthAdjust="spacingAndGlyphs" font-style="italic" font-size="45.6" dy="-3">ϕ</tspan><tspan x="624.4" textLength="18.1" lengthAdjust="spacingAndGlyphs" dy="3">8</tspan><tspan x="645.3" textLength="18.1" lengthAdjust="spacingAndGlyphs">7</tspan><tspan x="666.2" textLength="9.1" lengthAdjust="spacingAndGlyphs">.</tspan><tspan x="687.2" textLength="18.1" lengthAdjust="spacingAndGlyphs">5</tspan></text>
<text y="885" font-family="'Liberation Serif',serif" font-size="49" fill="#040404" stroke="#040404" stroke-width="0.45"><tspan x="2265.9" textLength="18.1" lengthAdjust="spacingAndGlyphs">1</tspan><tspan x="2285.9" textLength="18.1" lengthAdjust="spacingAndGlyphs">0</tspan></text>
<path d="M2263,896 H2306.7 L2309,911" fill="none" stroke="#040404" stroke-width="2.5" />
<text y="964.2" font-family="'Liberation Serif',serif" font-size="49" fill="#040404" stroke="#040404" stroke-width="0.45"><tspan x="2180.8" textLength="18.1" lengthAdjust="spacingAndGlyphs">2</tspan><tspan x="2200.3" textLength="18.1" lengthAdjust="spacingAndGlyphs">6</tspan><tspan x="2220.4" textLength="17" lengthAdjust="spacingAndGlyphs">/</tspan><tspan x="2239.4" textLength="18.1" lengthAdjust="spacingAndGlyphs">1</tspan><tspan x="2259.5" textLength="17" lengthAdjust="spacingAndGlyphs">/</tspan><tspan x="2278.5" textLength="18.1" lengthAdjust="spacingAndGlyphs">3</tspan><tspan x="2298.1" textLength="18.1" lengthAdjust="spacingAndGlyphs">0</tspan><tspan x="2318.8" textLength="15.7" lengthAdjust="spacingAndGlyphs">°</tspan></text>
<path d="M2377,971.2 H2143 V1180" fill="none" stroke="#040404" stroke-width="2.5" />
<path d="M2143,1206.8 L2137.4,1176.8 L2148.6,1176.8Z" fill="#040404" stroke="none"/>
<text y="1015" font-family="'Liberation Serif',serif" font-size="49" fill="#040404" stroke="#040404" stroke-width="0.45"><tspan x="2148" textLength="18.7" lengthAdjust="spacingAndGlyphs">M</tspan><tspan x="2165.8" textLength="22.1" lengthAdjust="spacingAndGlyphs">=</tspan><tspan x="2187.2" textLength="18.1" lengthAdjust="spacingAndGlyphs">2</tspan><tspan x="2206.7" textLength="18.1" lengthAdjust="spacingAndGlyphs">9</tspan><tspan x="2226.4" textLength="9.1" lengthAdjust="spacingAndGlyphs">.</tspan><tspan x="2245.6" textLength="18.1" lengthAdjust="spacingAndGlyphs">3</tspan><tspan x="2265" textLength="18.1" lengthAdjust="spacingAndGlyphs">0</tspan><tspan x="2289.4" textLength="13.1" lengthAdjust="spacingAndGlyphs">(</tspan><tspan x="2304.6" textLength="16.9" lengthAdjust="spacingAndGlyphs" font-style="italic" font-size="45.6" dy="-3">ϕ</tspan><tspan x="2323.4" textLength="18.1" lengthAdjust="spacingAndGlyphs" dy="3">2</tspan><tspan x="2343.1" textLength="13.1" lengthAdjust="spacingAndGlyphs">)</tspan></text>
<text y="1007.4" font-family="'Liberation Serif',serif" font-size="49" fill="#040404" stroke="#040404" stroke-width="0.45"><tspan x="1941.2" textLength="18.1" lengthAdjust="spacingAndGlyphs">4</tspan><tspan x="1961.2" textLength="18.1" lengthAdjust="spacingAndGlyphs">8</tspan><tspan x="1981.3" textLength="18" lengthAdjust="spacingAndGlyphs">T</tspan></text>
<path d="M1996,1017.8 H1935 V1078" fill="none" stroke="#040404" stroke-width="2.5" />
<path d="M1935,1101 L1929.6,1074 L1940.4,1074Z" fill="#040404" stroke="none"/>
<text y="1049.7" font-family="'Liberation Serif',serif" font-size="49" fill="#040404" stroke="#040404" stroke-width="0.45"><tspan x="1991.9" textLength="16.9" lengthAdjust="spacingAndGlyphs" font-style="italic" font-size="45.6" dy="-3">ϕ</tspan><tspan x="2010.8" textLength="18.1" lengthAdjust="spacingAndGlyphs" dy="3">5</tspan><tspan x="2030.3" textLength="18.1" lengthAdjust="spacingAndGlyphs">8</tspan></text>
<path d="M2058.3,1061.3 H1990.7 V1120" fill="none" stroke="#040404" stroke-width="2.5" />
<path d="M1990.7,1144.5 L1985.3,1117.5 L1996.1,1117.5Z" fill="#040404" stroke="none"/>
<text y="1093.6" font-family="'Liberation Serif',serif" font-size="49" fill="#040404" stroke="#040404" stroke-width="0.45"><tspan x="2246.7" textLength="18.7" lengthAdjust="spacingAndGlyphs">M</tspan><tspan x="2267.1" textLength="18.1" lengthAdjust="spacingAndGlyphs">2</tspan><tspan x="2287.3" textLength="18.1" lengthAdjust="spacingAndGlyphs">2</tspan><tspan x="2307.3" textLength="18.4" lengthAdjust="spacingAndGlyphs">X</tspan><tspan x="2327.6" textLength="18.1" lengthAdjust="spacingAndGlyphs">1</tspan><tspan x="2347.8" textLength="9.1" lengthAdjust="spacingAndGlyphs">.</tspan><tspan x="2367.9" textLength="18.1" lengthAdjust="spacingAndGlyphs">5</tspan></text>
<path d="M2234.2,1110 H2378.6 V1190" fill="none" stroke="#040404" stroke-width="2.5" />
<path d="M2378.6,1215.3 L2373.2,1187.3 L2384,1187.3Z" fill="#040404" stroke="none"/>
<path d="M2047,1316L2047,1411" stroke="#040404" stroke-width="2.5" fill="none" />
<path d="M2008.5,1374L2008.5,1594" stroke="#040404" stroke-width="2.5" fill="none" />
<path d="M1956,1402.2L2165.3,1402.2" stroke="#040404" stroke-width="2.5" fill="none" />
<path d="M2008.5,1402.2 L1979.5,1397 L1979.5,1407.4Z" fill="#040404" stroke="none"/>
<path d="M2047,1402.2 L2076,1397 L2076,1407.4Z" fill="#040404" stroke="none"/>
<text y="1396" font-family="'Liberation Serif',serif" font-size="49" fill="#040404" stroke="#040404" stroke-width="0.45"><tspan x="2105.6" textLength="18.1" lengthAdjust="spacingAndGlyphs">9</tspan><tspan x="2125.1" textLength="9.1" lengthAdjust="spacingAndGlyphs">.</tspan><tspan x="2144" textLength="18.1" lengthAdjust="spacingAndGlyphs">5</tspan></text>
<path d="M2250.4,1305L2250.4,1520.3" stroke="#040404" stroke-width="2.5" fill="none" />
<path d="M2260,1305L2260,1520.3" stroke="#040404" stroke-width="2.5" fill="none" />
<path d="M2009,1512.7L2250.4,1512.7" stroke="#040404" stroke-width="2.5" fill="none" />
<path d="M2009,1512.7 L2038,1507.5 L2038,1517.9Z" fill="#040404" stroke="none"/>
<path d="M2250.4,1512.7 L2221.4,1507.5 L2221.4,1517.9Z" fill="#040404" stroke="none"/>
<text y="1505.4" font-family="'Liberation Serif',serif" font-size="49" fill="#040404" stroke="#040404" stroke-width="0.45"><tspan x="2110.5" textLength="18.1" lengthAdjust="spacingAndGlyphs">6</tspan><tspan x="2130.1" textLength="18.1" lengthAdjust="spacingAndGlyphs">0</tspan></text>
<path d="M2260,1512.7L2394.6,1512.7" stroke="#040404" stroke-width="2.5" fill="none" />
<path d="M2260,1512.7 L2289,1507.5 L2289,1517.9Z" fill="#040404" stroke="none"/>
<path d="M2394.6,1512.7 L2365.6,1507.5 L2365.6,1517.9Z" fill="#040404" stroke="none"/>
<text y="1505.4" font-family="'Liberation Serif',serif" font-size="49" fill="#040404" stroke="#040404" stroke-width="0.45"><tspan x="2288.5" textLength="18.1" lengthAdjust="spacingAndGlyphs">3</tspan><tspan x="2308" textLength="18.1" lengthAdjust="spacingAndGlyphs">3</tspan><tspan x="2327.7" textLength="9.1" lengthAdjust="spacingAndGlyphs">.</tspan><tspan x="2346.9" textLength="18.1" lengthAdjust="spacingAndGlyphs">5</tspan></text>
<path d="M2394.8,1303L2394.8,1650" stroke="#040404" stroke-width="2.5" fill="none" />
<path d="M2009,1585.5L2394.6,1585.5" stroke="#040404" stroke-width="2.5" fill="none" />
<path d="M2009,1585.5 L2038,1580.3 L2038,1590.7Z" fill="#040404" stroke="none"/>
<path d="M2394.6,1585.5 L2365.6,1580.3 L2365.6,1590.7Z" fill="#040404" stroke="none"/>
<text y="1579" font-family="'Liberation Serif',serif" font-size="49" fill="#040404" stroke="#040404" stroke-width="0.45"><tspan x="2182.4" textLength="18.1" lengthAdjust="spacingAndGlyphs">9</tspan><tspan x="2202.8" textLength="18.1" lengthAdjust="spacingAndGlyphs">6</tspan></text>
<path d="M1953.5,1422L1953.5,1594" stroke="#040404" stroke-width="2.5" fill="none" />
<path d="M1816,1585.5L2009,1585.5" stroke="#040404" stroke-width="2.5" fill="none" />
<path d="M1953.5,1585.5 L1924.5,1580.3 L1924.5,1590.7Z" fill="#040404" stroke="none"/>
<text y="1579" font-family="'Liberation Serif',serif" font-size="49" fill="#040404" stroke="#040404" stroke-width="0.45"><tspan x="1818.3" textLength="18.1" lengthAdjust="spacingAndGlyphs">1</tspan><tspan x="1838.1" textLength="18.1" lengthAdjust="spacingAndGlyphs">3</tspan><tspan x="1858.1" textLength="9.1" lengthAdjust="spacingAndGlyphs">.</tspan><tspan x="1877.6" textLength="18.1" lengthAdjust="spacingAndGlyphs">8</tspan></text>
<text y="1521.5" font-family="'Liberation Serif',serif" font-size="49" fill="#040404" stroke="#040404" stroke-width="0.45"><tspan x="1771.5" textLength="16.9" lengthAdjust="spacingAndGlyphs" font-style="italic" font-size="45.6" dy="-3">ϕ</tspan><tspan x="1793.4" textLength="18.1" lengthAdjust="spacingAndGlyphs" dy="3">8</tspan><tspan x="1815.9" textLength="18.1" lengthAdjust="spacingAndGlyphs">5</tspan></text>
<path d="M1765.9,1530.7 H1854.5 V1456" fill="none" stroke="#040404" stroke-width="2.5" />
<path d="M1854.5,1432.6 L1849.5,1458.6 L1859.5,1458.6Z" fill="#040404" stroke="none"/>
</g>
<defs><pattern id="wmtex" patternUnits="userSpaceOnUse" width="46" height="24"><g font-family="'Liberation Sans',sans-serif" font-weight="bold" font-size="9.5" fill="#e2e2e2"><text x="-46" y="9.5">SKV.PL</text><text x="0" y="9.5">SKV.PL</text><text x="46" y="9.5">SKV.PL</text><text x="-23" y="21.5">SKV.PL</text><text x="23" y="21.5">SKV.PL</text><text x="69" y="21.5">SKV.PL</text></g></pattern></defs><text transform="translate(535.4,2194.5) rotate(-45) scale(1.136,1)" font-family="'Liberation Sans',sans-serif" font-weight="bold" font-size="653" x="-42 414 878 1292 1473 1906" y="0" stroke-width="26" stroke-linejoin="round" fill="#fff" stroke="#fff" opacity="0.42">SKV.PL</text><text transform="translate(535.4,2194.5) rotate(-45) scale(1.136,1)" font-family="'Liberation Sans',sans-serif" font-weight="bold" font-size="653" x="-42 414 878 1292 1473 1906" y="0" stroke-width="26" stroke-linejoin="round" fill="url(#wmtex)" stroke="url(#wmtex)">SKV.PL</text>
<defs><linearGradient id="tabg" x1="0" y1="0" x2="0" y2="1"><stop offset="0" stop-color="#b3282e"/><stop offset="0.55" stop-color="#d62229"/><stop offset="1" stop-color="#e51e25"/></linearGradient><linearGradient id="bandg" gradientUnits="userSpaceOnUse" x1="0" y1="0" x2="430" y2="0"><stop offset="0" stop-color="#bd1f2d"/><stop offset="1" stop-color="#e02128"/></linearGradient></defs><rect x="35" y="35" width="2430" height="2429.5" fill="none" stroke="#6f6f6f" stroke-width="2"/><path d="M1999,0 C1999,78 2048,137 2126,137 L2500,137 L2500,0 Z" fill="url(#tabg)"/><text x="2108" y="86" font-family="'Liberation Sans',sans-serif" font-weight="bold" font-style="italic" font-size="76" fill="#fff" stroke="#fff" stroke-width="3" stroke-linejoin="round" textLength="341" lengthAdjust="spacingAndGlyphs">SKV.PL</text><path d="M72.8,2131.8 L362.8,2421.8 L-37.2,2821.8 L-327.2,2531.8 Z" fill="url(#bandg)"/><circle cx="217.8" cy="2276.8" r="205" fill="url(#bandg)"/><circle cx="217.8" cy="2276.8" r="182.5" fill="#fff"/><use href="#logo" x="217.8" y="2276.8"/>
<rect x="1743" y="2224" width="722" height="240" fill="#fff" stroke="#4a4a4a" stroke-width="2.4"/><path d="M2034,2224V2464M2344.5,2224V2464M2246,2343V2464M2034,2343H2465" fill="none" stroke="#4a4a4a" stroke-width="2.2"/><g transform="translate(1878.3,2311) scale(0.3697)"><circle r="172" fill="#3b3b3d"/><use href="#logo"/></g><text x="1752.3" y="2244.6" font-family="'Liberation Sans',sans-serif" font-size="15.6" fill="#5a5a5a" font-weight="normal" text-anchor="start" textLength="52.5" lengthAdjust="spacingAndGlyphs">Importer</text><text x="2044.2" y="2244.6" font-family="'Liberation Sans',sans-serif" font-size="15.6" fill="#5a5a5a" font-weight="normal" text-anchor="start" textLength="86.4" lengthAdjust="spacingAndGlyphs">Product name</text><text x="2352.6" y="2244.6" font-family="'Liberation Sans',sans-serif" font-size="15.6" fill="#5a5a5a" font-weight="normal" text-anchor="start" textLength="46.4" lengthAdjust="spacingAndGlyphs">Symbol</text><text x="2045.4" y="2365.5" font-family="'Liberation Sans',sans-serif" font-size="15.6" fill="#5a5a5a" font-weight="normal" text-anchor="start" textLength="70.2" lengthAdjust="spacingAndGlyphs">OE Number</text><text x="2257" y="2365.5" font-family="'Liberation Sans',sans-serif" font-size="15.6" fill="#5a5a5a" font-weight="normal" text-anchor="start" textLength="73.5" lengthAdjust="spacingAndGlyphs">Diagram No</text><text x="2352.6" y="2365.5" font-family="'Liberation Sans',sans-serif" font-size="15.6" fill="#5a5a5a" font-weight="normal" text-anchor="start" textLength="28.7" lengthAdjust="spacingAndGlyphs">Date</text><text x="2044.2" y="2295.7" font-family="'Liberation Sans',sans-serif" font-size="22.6" fill="#1a1a1a" font-weight="normal" text-anchor="start" textLength="116.7" lengthAdjust="spacingAndGlyphs">DRIVESHAFT</text><text x="2352.6" y="2295.7" font-family="'Liberation Sans',sans-serif" font-size="22.6" fill="#1a1a1a" font-weight="normal" text-anchor="start" textLength="94" lengthAdjust="spacingAndGlyphs">40SKV066</text><text x="2045.4" y="2416" font-family="'Liberation Sans',sans-serif" font-size="22.6" fill="#1a1a1a" font-weight="normal" text-anchor="start" textLength="112.6" lengthAdjust="spacingAndGlyphs">434200F010</text><text x="2257" y="2416" font-family="'Liberation Sans',sans-serif" font-size="22.6" fill="#1a1a1a" font-weight="normal" text-anchor="start" textLength="32.3" lengthAdjust="spacingAndGlyphs">001</text><text x="2352.6" y="2416" font-family="'Liberation Sans',sans-serif" font-size="22.6" fill="#1a1a1a" font-weight="normal" text-anchor="start" textLength="75.9" lengthAdjust="spacingAndGlyphs">01/2025</text><text x="1884.5" y="2398.8" font-family="'Liberation Sans',sans-serif" font-size="17.2" fill="#1a1a1a" font-weight="bold" text-anchor="middle" textLength="242.6" lengthAdjust="spacingAndGlyphs">ESEN Wojciech Michorzewski S.K.A.</text><text x="1884.5" y="2420.2" font-family="'Liberation Sans',sans-serif" font-size="17.2" fill="#1a1a1a" font-weight="normal" text-anchor="middle" textLength="266.5" lengthAdjust="spacingAndGlyphs">Papiezka 69, 87-800 Wloclawek, Poland</text><text x="1884.5" y="2440.4" font-family="'Liberation Sans',sans-serif" font-size="17.2" fill="#1a1a1a" font-weight="normal" text-anchor="middle" textLength="159.5" lengthAdjust="spacingAndGlyphs">info@skv.pl, www.skv.pl</text>
</svg>
</body></html>
